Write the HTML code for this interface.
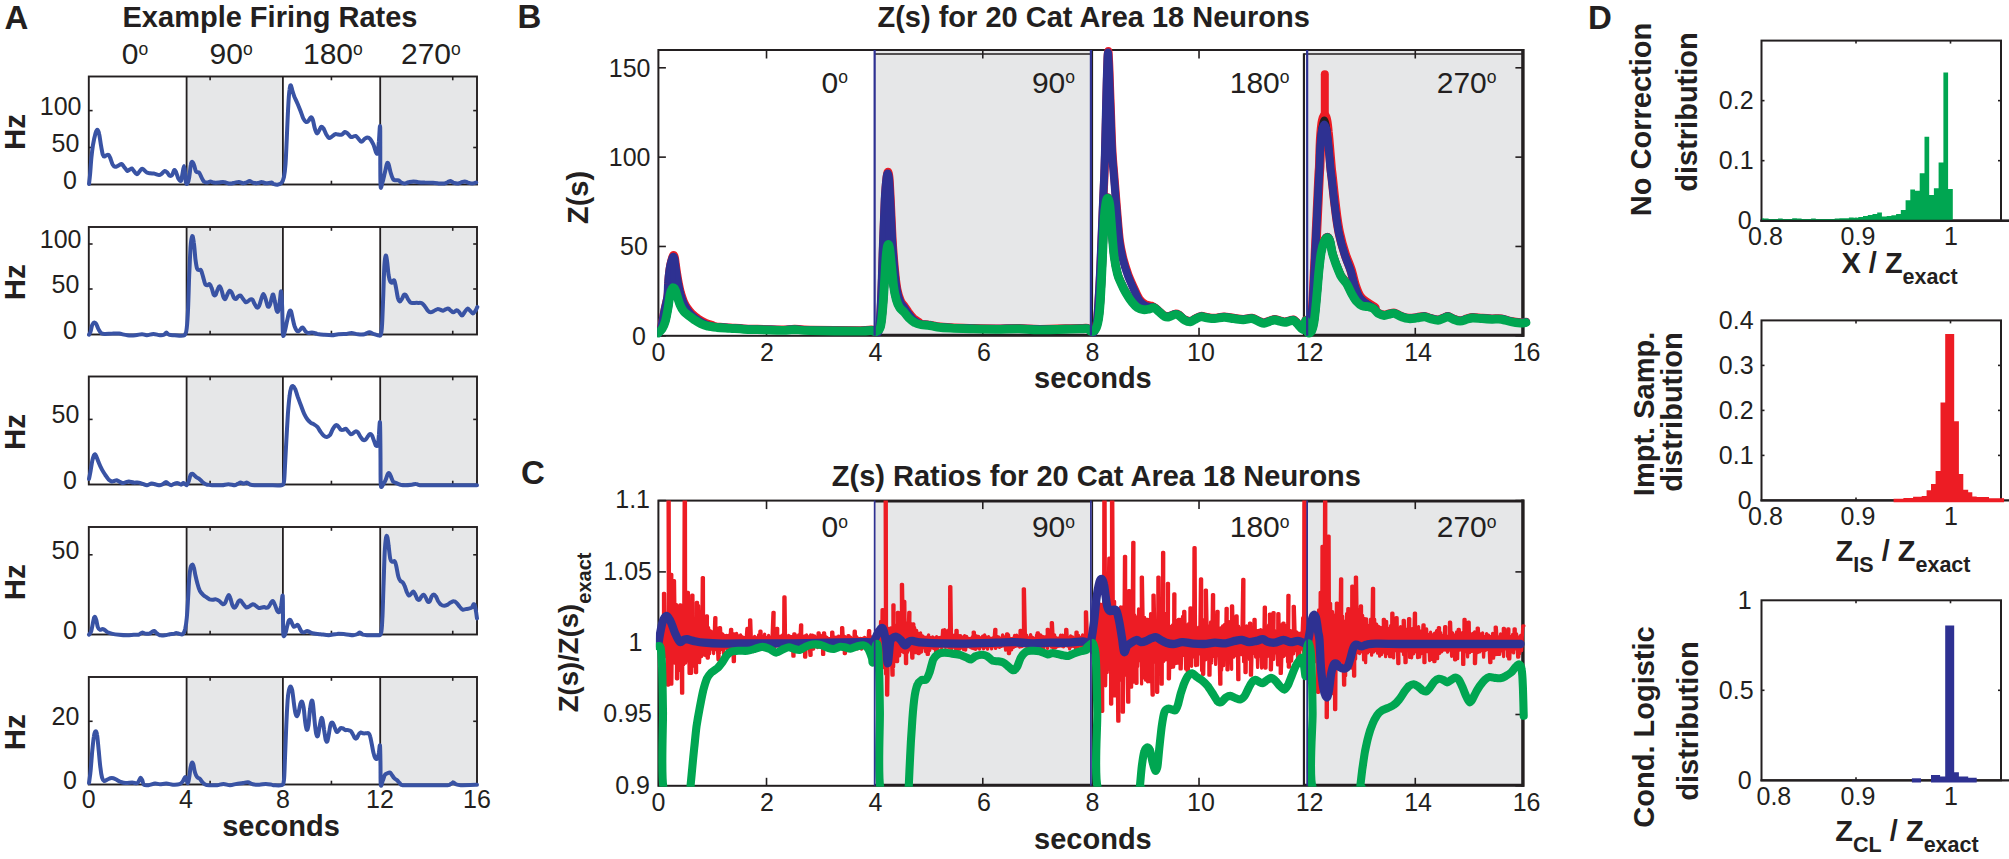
<!DOCTYPE html>
<html><head><meta charset="utf-8"><title>Figure</title>
<style>
html,body{margin:0;padding:0;background:#fff;}
body{width:2009px;height:859px;overflow:hidden;}
svg{display:block;font-family:"Liberation Sans",sans-serif;fill:#231F20;}
</style></head><body>
<svg width="2009" height="859" viewBox="0 0 2009 859">
<text x="4.5" y="28.6" font-size="33" text-anchor="start" font-weight="bold" >A</text>
<text x="517.6" y="27.8" font-size="33" text-anchor="start" font-weight="bold" >B</text>
<text x="521" y="484" font-size="33" text-anchor="start" font-weight="bold" >C</text>
<text x="1588" y="28.6" font-size="33" text-anchor="start" font-weight="bold" >D</text>
<text x="270" y="26.8" font-size="29" text-anchor="middle" font-weight="bold" >Example Firing Rates</text>
<text x="121.8" y="64.2" font-size="30" text-anchor="start">0<tspan font-size="17.5" dy="-9.3">o</tspan></text>
<text x="209.5" y="64.2" font-size="30" text-anchor="start">90<tspan font-size="17.5" dy="-9.3">o</tspan></text>
<text x="303" y="64.2" font-size="30" text-anchor="start">180<tspan font-size="17.5" dy="-9.3">o</tspan></text>
<text x="401" y="64.2" font-size="30" text-anchor="start">270<tspan font-size="17.5" dy="-9.3">o</tspan></text>
<rect x="186.6" y="76.5" width="96.29999999999998" height="108.0" fill="#E6E7E8" />
<rect x="380.2" y="76.5" width="96.80000000000001" height="108.0" fill="#E6E7E8" />
<rect x="88.8" y="76.5" width="388.2" height="108.0" fill="none" stroke="#231F20" stroke-width="1.9"/>
<line x1="186.6" y1="76.5" x2="186.6" y2="184.5" stroke="#231F20" stroke-width="1.8" />
<line x1="282.9" y1="76.5" x2="282.9" y2="184.5" stroke="#231F20" stroke-width="1.8" />
<line x1="380.2" y1="76.5" x2="380.2" y2="184.5" stroke="#231F20" stroke-width="1.8" />
<line x1="210.1125" y1="76.5" x2="210.1125" y2="80.3" stroke="#231F20" stroke-width="1.6" />
<line x1="210.1125" y1="184.5" x2="210.1125" y2="180.7" stroke="#231F20" stroke-width="1.6" />
<line x1="331.425" y1="76.5" x2="331.425" y2="80.3" stroke="#231F20" stroke-width="1.6" />
<line x1="331.425" y1="184.5" x2="331.425" y2="180.7" stroke="#231F20" stroke-width="1.6" />
<line x1="452.7375" y1="76.5" x2="452.7375" y2="80.3" stroke="#231F20" stroke-width="1.6" />
<line x1="452.7375" y1="184.5" x2="452.7375" y2="180.7" stroke="#231F20" stroke-width="1.6" />
<line x1="88.8" y1="110.6" x2="92.6" y2="110.6" stroke="#231F20" stroke-width="1.6" />
<line x1="477.0" y1="110.6" x2="473.2" y2="110.6" stroke="#231F20" stroke-width="1.6" />
<text x="81.5" y="114.6" font-size="25" text-anchor="end" font-weight="normal" >100</text>
<line x1="88.8" y1="147.5" x2="92.6" y2="147.5" stroke="#231F20" stroke-width="1.6" />
<line x1="477.0" y1="147.5" x2="473.2" y2="147.5" stroke="#231F20" stroke-width="1.6" />
<text x="79.3" y="151.5" font-size="25" text-anchor="end" font-weight="normal" >50</text>
<text x="77.0" y="188.5" font-size="25" text-anchor="end" font-weight="normal" >0</text>
<text transform="translate(25.2,132.0) rotate(-90)" font-size="29.5" text-anchor="middle" font-weight="bold" >Hz</text>
<path d="M89.0,183.9 C89.2,182.3 89.7,178.5 90.1,174.1 C90.5,169.8 90.9,162.7 91.4,157.8 C91.9,152.9 92.4,148.9 93.0,144.8 C93.7,140.7 94.8,135.9 95.5,133.4 C96.2,130.9 96.8,129.7 97.4,129.8 C98.1,129.9 98.7,131.7 99.2,134.2 C99.8,136.7 100.3,141.4 100.9,144.8 C101.5,148.2 102.2,152.6 102.8,154.6 C103.4,156.5 103.8,156.4 104.5,156.5 C105.1,156.6 105.9,155.3 106.6,155.1 C107.3,154.8 107.9,154.4 108.5,154.9 C109.1,155.4 109.5,156.3 110.2,157.8 C110.8,159.4 111.8,162.9 112.6,164.4 C113.4,165.8 114.1,166.6 115.1,166.8 C116.0,167.0 117.2,166.1 118.3,165.7 C119.4,165.2 120.6,163.8 121.6,164.0 C122.5,164.2 123.1,165.7 124.0,166.8 C125.0,167.9 126.3,170.4 127.3,170.9 C128.2,171.3 129.0,170.0 129.7,169.6 C130.5,169.2 131.2,168.2 131.9,168.4 C132.5,168.6 133.0,169.9 133.8,170.9 C134.6,171.8 135.9,173.9 136.7,174.1 C137.6,174.4 137.9,173.4 138.7,172.5 C139.5,171.6 140.8,169.4 141.6,168.9 C142.4,168.4 142.7,169.0 143.6,169.6 C144.5,170.2 145.8,171.9 146.9,172.5 C147.9,173.1 148.9,173.1 150.1,173.3 C151.3,173.5 152.7,173.4 154.2,173.6 C155.7,173.9 157.9,174.9 159.1,175.0 C160.3,175.0 160.6,174.5 161.5,173.8 C162.5,173.1 163.8,171.1 164.8,170.9 C165.7,170.7 166.4,171.7 167.2,172.5 C168.0,173.3 168.9,175.4 169.7,175.8 C170.5,176.2 171.4,175.9 172.1,175.0 C172.9,174.0 173.6,170.5 174.2,170.1 C174.9,169.7 175.5,171.0 176.2,172.5 C176.9,174.0 177.8,177.7 178.6,179.0 C179.5,180.4 180.5,181.5 181.1,180.7 C181.7,179.8 181.9,176.6 182.4,174.1 C182.9,171.7 183.6,166.0 184.0,166.0 C184.5,166.0 184.8,171.3 185.2,174.1 C185.5,177.0 185.6,181.6 186.0,183.1 C186.4,184.6 187.1,184.1 187.6,183.1 C188.2,182.2 188.7,180.5 189.2,177.4 C189.8,174.3 190.3,166.9 190.9,164.4 C191.4,161.8 192.0,161.8 192.5,161.9 C193.0,162.0 193.5,163.5 194.1,165.2 C194.7,166.8 195.3,170.5 196.1,171.7 C196.9,172.9 198.1,171.6 199.0,172.5 C199.9,173.5 200.7,175.9 201.5,177.4 C202.3,178.9 203.0,180.6 203.9,181.5 C204.9,182.3 206.1,182.6 207.2,182.6 C208.3,182.6 209.4,181.5 210.4,181.5 C211.5,181.5 212.3,182.4 213.7,182.6 C215.1,182.8 217.0,182.7 218.6,182.6 C220.2,182.5 221.6,181.8 223.5,182.0 C225.4,182.1 228.1,183.5 230.0,183.6 C231.9,183.7 233.4,182.9 234.9,182.6 C236.4,182.3 237.6,181.9 239.0,182.0 C240.3,182.1 241.8,183.2 243.1,183.3 C244.3,183.4 245.2,183.0 246.3,182.6 C247.4,182.2 248.5,181.0 249.6,181.0 C250.7,181.0 251.5,182.3 252.8,182.6 C254.2,183.0 256.2,183.2 257.7,183.1 C259.2,183.0 260.4,181.9 261.8,182.0 C263.2,182.0 264.2,183.2 265.9,183.3 C267.5,183.4 270.4,182.5 271.6,182.6 C272.8,182.7 272.3,183.5 273.3,183.9 C274.2,184.2 276.0,184.8 277.3,184.7 C278.7,184.5 280.3,184.3 281.4,183.0 C282.5,181.8 283.2,180.5 283.9,177.3 C284.5,174.2 285.0,170.8 285.5,164.3 C286.0,157.8 286.3,148.0 286.8,138.2 C287.2,128.4 287.8,113.8 288.3,105.6 C288.7,97.5 289.1,92.7 289.6,89.3 C290.0,85.9 290.4,85.0 290.9,85.3 C291.3,85.5 291.9,89.1 292.5,91.0 C293.1,92.9 293.6,94.5 294.4,96.7 C295.3,98.8 296.6,101.4 297.7,104.0 C298.8,106.6 300.0,109.7 301.0,112.2 C301.9,114.6 302.6,117.0 303.4,118.7 C304.2,120.3 305.0,121.5 305.9,121.9 C306.7,122.3 307.5,121.9 308.3,121.1 C309.1,120.4 310.0,117.6 310.7,117.4 C311.5,117.1 312.0,117.6 312.7,119.5 C313.4,121.3 314.1,126.1 314.8,128.4 C315.5,130.8 316.3,132.9 316.9,133.3 C317.6,133.7 318.2,132.0 318.9,130.9 C319.6,129.8 320.6,127.2 321.3,126.8 C322.1,126.4 322.6,127.2 323.5,128.4 C324.3,129.7 325.3,132.6 326.2,134.2 C327.1,135.7 328.0,137.5 329.0,137.9 C329.9,138.3 330.9,137.2 331.9,136.6 C333.0,136.0 334.1,134.5 335.2,134.2 C336.3,133.8 337.4,134.6 338.4,134.6 C339.5,134.7 340.6,135.1 341.7,134.6 C342.8,134.2 344.0,132.3 345.0,132.0 C345.9,131.8 346.5,132.5 347.4,133.3 C348.4,134.2 349.7,136.4 350.7,136.9 C351.6,137.5 352.3,136.8 353.1,136.6 C353.9,136.4 354.7,135.7 355.6,135.9 C356.4,136.2 357.1,137.2 358.0,138.2 C359.0,139.2 360.2,141.7 361.3,141.8 C362.4,141.9 363.5,139.8 364.5,139.0 C365.6,138.3 366.5,137.4 367.5,137.4 C368.4,137.4 369.2,137.8 370.2,139.0 C371.2,140.3 372.5,142.6 373.5,144.7 C374.4,146.9 375.3,150.7 375.9,152.1 C376.6,153.4 377.1,154.7 377.6,152.9 C378.1,151.1 378.4,145.7 378.9,141.5 C379.3,137.3 379.9,120.6 380.2,127.6 C380.4,134.7 380.1,174.8 380.5,183.9 C380.9,193.0 381.7,184.1 382.5,182.2 C383.2,180.3 384.1,175.6 384.9,172.5 C385.7,169.3 386.4,164.8 387.0,163.5 C387.6,162.1 388.0,162.8 388.6,164.3 C389.2,165.8 389.9,170.0 390.6,172.5 C391.3,174.9 392.2,177.7 393.0,179.0 C393.9,180.3 394.5,180.1 395.5,180.3 C396.4,180.5 397.8,179.9 398.7,180.3 C399.7,180.7 400.2,182.0 401.2,182.6 C402.1,183.1 403.2,183.6 404.5,183.5 C405.7,183.5 407.0,182.6 408.5,182.2 C410.0,181.9 411.8,181.4 413.4,181.4 C415.0,181.4 416.4,182.0 418.3,182.2 C420.2,182.4 422.4,182.5 424.8,182.6 C427.3,182.6 430.5,182.6 433.0,182.7 C435.4,182.9 437.6,183.2 439.5,183.4 C441.4,183.5 443.0,183.7 444.4,183.5 C445.7,183.3 446.6,182.7 447.6,182.2 C448.7,181.8 449.6,180.9 450.6,180.9 C451.5,181.0 452.2,182.1 453.3,182.6 C454.5,183.0 456.2,183.5 457.4,183.5 C458.6,183.5 459.5,182.9 460.7,182.6 C461.9,182.2 463.5,181.4 464.8,181.4 C466.0,181.4 466.8,182.2 468.0,182.6 C469.2,182.9 470.7,183.5 472.1,183.5 C473.4,183.5 475.5,182.7 476.2,182.6" fill="none" stroke="#3953A4" stroke-width="4" stroke-linejoin="round" stroke-linecap="round"/>
<rect x="186.6" y="227.0" width="96.29999999999998" height="107.5" fill="#E6E7E8" />
<rect x="380.2" y="227.0" width="96.80000000000001" height="107.5" fill="#E6E7E8" />
<rect x="88.8" y="227.0" width="388.2" height="107.5" fill="none" stroke="#231F20" stroke-width="1.9"/>
<line x1="186.6" y1="227.0" x2="186.6" y2="334.5" stroke="#231F20" stroke-width="1.8" />
<line x1="282.9" y1="227.0" x2="282.9" y2="334.5" stroke="#231F20" stroke-width="1.8" />
<line x1="380.2" y1="227.0" x2="380.2" y2="334.5" stroke="#231F20" stroke-width="1.8" />
<line x1="210.1125" y1="227.0" x2="210.1125" y2="230.8" stroke="#231F20" stroke-width="1.6" />
<line x1="210.1125" y1="334.5" x2="210.1125" y2="330.7" stroke="#231F20" stroke-width="1.6" />
<line x1="331.425" y1="227.0" x2="331.425" y2="230.8" stroke="#231F20" stroke-width="1.6" />
<line x1="331.425" y1="334.5" x2="331.425" y2="330.7" stroke="#231F20" stroke-width="1.6" />
<line x1="452.7375" y1="227.0" x2="452.7375" y2="230.8" stroke="#231F20" stroke-width="1.6" />
<line x1="452.7375" y1="334.5" x2="452.7375" y2="330.7" stroke="#231F20" stroke-width="1.6" />
<line x1="88.8" y1="244.0" x2="92.6" y2="244.0" stroke="#231F20" stroke-width="1.6" />
<line x1="477.0" y1="244.0" x2="473.2" y2="244.0" stroke="#231F20" stroke-width="1.6" />
<text x="81.5" y="248.0" font-size="25" text-anchor="end" font-weight="normal" >100</text>
<line x1="88.8" y1="289.0" x2="92.6" y2="289.0" stroke="#231F20" stroke-width="1.6" />
<line x1="477.0" y1="289.0" x2="473.2" y2="289.0" stroke="#231F20" stroke-width="1.6" />
<text x="79.3" y="293.0" font-size="25" text-anchor="end" font-weight="normal" >50</text>
<text x="77.0" y="338.5" font-size="25" text-anchor="end" font-weight="normal" >0</text>
<text transform="translate(25.2,282.25) rotate(-90)" font-size="29.5" text-anchor="middle" font-weight="bold" >Hz</text>
<path d="M89.0,334.7 C89.2,334.2 90.1,333.1 90.6,331.5 C91.1,329.8 91.6,326.4 92.2,325.0 C92.9,323.5 93.7,322.6 94.3,322.5 C95.0,322.4 95.6,322.9 96.3,324.1 C97.0,325.4 97.9,328.3 98.8,329.8 C99.6,331.3 100.2,332.4 101.2,333.1 C102.1,333.8 102.6,333.8 104.5,333.9 C106.4,334.0 110.2,333.6 112.6,333.6 C115.1,333.5 116.7,333.3 119.1,333.6 C121.6,333.9 124.6,335.0 127.3,335.2 C130.0,335.5 133.0,335.4 135.4,335.2 C137.9,335.1 140.1,334.2 142.0,334.2 C143.9,334.2 144.9,335.3 146.9,335.2 C148.8,335.2 151.2,333.9 153.4,333.9 C155.5,333.9 158.1,335.1 159.9,335.2 C161.7,335.4 162.9,335.2 164.0,334.7 C165.1,334.3 165.6,332.6 166.4,332.6 C167.2,332.6 167.5,334.3 168.9,334.7 C170.2,335.2 172.0,335.1 174.6,335.2 C177.2,335.3 182.3,336.5 184.4,335.2 C186.4,333.9 186.2,332.0 186.8,327.4 C187.4,322.8 187.7,316.5 188.1,307.8 C188.5,299.1 188.8,285.3 189.2,275.2 C189.7,265.2 190.1,254.0 190.5,247.5 C191.0,241.0 191.6,236.9 192.2,236.1 C192.7,235.3 193.3,238.8 193.8,242.6 C194.4,246.4 194.9,254.6 195.4,258.9 C196.0,263.3 196.5,266.9 197.1,268.7 C197.7,270.5 198.4,269.7 199.0,270.0 C199.7,270.3 200.3,269.2 201.0,270.3 C201.7,271.5 202.4,274.5 203.1,276.9 C203.8,279.2 204.5,282.8 205.2,284.2 C206.0,285.6 206.8,285.3 207.5,285.3 C208.2,285.3 208.9,283.7 209.6,284.2 C210.3,284.7 211.1,286.5 211.7,288.3 C212.4,290.0 213.1,293.7 213.7,294.8 C214.4,295.9 215.0,295.7 215.7,294.8 C216.3,293.8 217.1,290.5 217.8,289.1 C218.4,287.7 218.9,286.2 219.6,286.3 C220.2,286.4 220.9,288.1 221.5,289.9 C222.2,291.7 222.8,295.7 223.5,297.2 C224.1,298.7 224.8,299.4 225.4,298.9 C226.1,298.3 226.9,295.3 227.6,294.0 C228.3,292.6 229.0,291.0 229.7,290.7 C230.4,290.4 230.9,291.1 231.6,292.3 C232.4,293.6 233.3,297.0 234.1,298.0 C234.8,299.1 235.5,299.1 236.2,298.9 C236.9,298.6 237.4,297.0 238.2,296.4 C238.9,295.9 239.8,295.2 240.6,295.6 C241.4,296.0 242.2,297.8 243.1,298.9 C243.9,300.0 244.7,301.7 245.5,302.1 C246.3,302.5 247.1,301.8 247.9,301.3 C248.8,300.8 249.6,299.6 250.4,299.4 C251.2,299.1 251.8,298.9 252.5,299.7 C253.2,300.4 253.7,302.5 254.5,303.8 C255.2,305.1 256.2,307.1 256.9,307.5 C257.7,307.9 258.3,307.6 259.0,306.2 C259.8,304.8 260.6,300.9 261.3,298.9 C262.0,296.8 262.7,294.0 263.4,294.0 C264.1,294.0 264.8,296.8 265.6,298.9 C266.3,301.0 267.1,305.6 267.8,306.5 C268.6,307.5 269.2,306.3 270.0,304.6 C270.7,302.9 271.5,298.0 272.1,296.4 C272.6,294.8 272.9,294.0 273.4,294.8 C273.8,295.6 274.3,298.7 274.8,301.3 C275.4,303.9 276.0,308.6 276.5,310.2 C277.1,311.9 277.6,312.5 278.1,311.0 C278.7,309.5 279.3,304.5 279.8,301.3 C280.3,298.0 280.7,290.4 281.1,291.5 C281.5,292.6 281.9,300.6 282.2,307.8 C282.5,315.0 282.6,330.9 283.0,334.7 C283.5,338.5 284.3,332.9 285.0,330.6 C285.7,328.3 286.4,323.9 287.1,320.8 C287.8,317.7 288.6,313.5 289.2,311.9 C289.9,310.2 290.3,310.1 290.9,311.0 C291.4,312.0 291.9,315.1 292.5,317.6 C293.1,320.0 293.7,323.5 294.4,325.7 C295.2,327.9 296.1,330.1 296.9,330.9 C297.7,331.7 298.5,331.1 299.3,330.6 C300.1,330.1 301.1,328.1 301.8,327.7 C302.5,327.3 302.8,327.5 303.4,328.2 C304.0,328.8 304.7,330.6 305.5,331.4 C306.3,332.2 307.2,332.9 308.3,333.0 C309.4,333.2 310.9,332.4 312.4,332.6 C313.9,332.7 315.4,333.5 317.3,333.9 C319.2,334.2 321.3,334.5 323.8,334.7 C326.2,334.9 329.5,335.2 331.9,335.2 C334.4,335.1 336.0,334.4 338.4,334.2 C340.9,334.0 344.4,334.0 346.6,333.9 C348.8,333.7 349.6,333.0 351.5,333.0 C353.4,333.1 355.8,334.0 358.0,334.2 C360.2,334.4 362.6,334.5 364.5,334.2 C366.4,333.9 367.9,332.3 369.4,332.2 C370.9,332.2 372.1,333.4 373.5,333.9 C374.8,334.3 376.3,335.0 377.6,335.2 C378.8,335.3 380.1,336.5 380.8,334.7 C381.6,332.8 381.7,330.7 382.1,324.1 C382.5,317.4 382.9,304.5 383.3,294.7 C383.6,285.0 384.0,271.9 384.4,265.4 C384.8,258.9 385.3,256.4 385.7,255.6 C386.1,254.8 386.5,257.3 387.0,260.5 C387.5,263.8 388.1,271.7 388.6,275.2 C389.2,278.7 389.7,280.5 390.3,281.7 C390.9,282.9 391.6,282.7 392.2,282.5 C392.9,282.3 393.6,279.7 394.2,280.4 C394.8,281.1 395.2,283.7 395.8,286.6 C396.4,289.5 397.3,295.5 397.9,298.0 C398.6,300.5 399.2,301.5 399.9,301.6 C400.6,301.7 401.3,300.0 402.0,298.8 C402.7,297.7 403.3,295.3 404.0,294.7 C404.6,294.2 405.4,294.7 406.1,295.6 C406.8,296.4 407.5,298.5 408.2,299.6 C408.9,300.8 409.6,302.0 410.5,302.6 C411.4,303.1 412.1,302.8 413.4,302.9 C414.7,302.9 416.9,302.8 418.3,302.9 C419.7,302.9 420.8,302.7 421.9,303.2 C423.0,303.8 423.8,304.9 424.8,306.2 C425.8,307.4 426.8,309.7 427.8,310.7 C428.7,311.7 429.5,312.3 430.5,312.3 C431.5,312.4 432.6,311.6 433.8,311.0 C435.0,310.5 436.4,309.3 437.5,309.1 C438.6,308.9 439.4,309.5 440.3,309.7 C441.2,310.0 442.1,310.8 443.1,310.7 C444.0,310.6 445.1,309.4 446.0,309.1 C446.9,308.7 447.6,308.3 448.5,308.6 C449.3,308.9 450.1,310.1 450.9,310.7 C451.7,311.3 452.4,312.4 453.3,312.3 C454.3,312.3 455.7,310.3 456.6,310.2 C457.6,310.1 458.2,311.0 459.0,311.9 C459.9,312.8 461.0,315.6 462.0,315.6 C462.9,315.6 463.8,313.0 464.8,311.9 C465.7,310.7 466.6,308.8 467.5,308.6 C468.4,308.4 469.2,309.9 470.1,310.7 C471.0,311.5 472.0,313.4 472.9,313.5 C473.8,313.5 474.6,312.1 475.3,311.0 C476.1,310.0 477.0,307.6 477.3,307.0" fill="none" stroke="#3953A4" stroke-width="4" stroke-linejoin="round" stroke-linecap="round"/>
<rect x="186.6" y="376.5" width="96.29999999999998" height="108.0" fill="#E6E7E8" />
<rect x="380.2" y="376.5" width="96.80000000000001" height="108.0" fill="#E6E7E8" />
<rect x="88.8" y="376.5" width="388.2" height="108.0" fill="none" stroke="#231F20" stroke-width="1.9"/>
<line x1="186.6" y1="376.5" x2="186.6" y2="484.5" stroke="#231F20" stroke-width="1.8" />
<line x1="282.9" y1="376.5" x2="282.9" y2="484.5" stroke="#231F20" stroke-width="1.8" />
<line x1="380.2" y1="376.5" x2="380.2" y2="484.5" stroke="#231F20" stroke-width="1.8" />
<line x1="210.1125" y1="376.5" x2="210.1125" y2="380.3" stroke="#231F20" stroke-width="1.6" />
<line x1="210.1125" y1="484.5" x2="210.1125" y2="480.7" stroke="#231F20" stroke-width="1.6" />
<line x1="331.425" y1="376.5" x2="331.425" y2="380.3" stroke="#231F20" stroke-width="1.6" />
<line x1="331.425" y1="484.5" x2="331.425" y2="480.7" stroke="#231F20" stroke-width="1.6" />
<line x1="452.7375" y1="376.5" x2="452.7375" y2="380.3" stroke="#231F20" stroke-width="1.6" />
<line x1="452.7375" y1="484.5" x2="452.7375" y2="480.7" stroke="#231F20" stroke-width="1.6" />
<line x1="88.8" y1="419.4" x2="92.6" y2="419.4" stroke="#231F20" stroke-width="1.6" />
<line x1="477.0" y1="419.4" x2="473.2" y2="419.4" stroke="#231F20" stroke-width="1.6" />
<text x="79.3" y="423.4" font-size="25" text-anchor="end" font-weight="normal" >50</text>
<text x="77.0" y="488.5" font-size="25" text-anchor="end" font-weight="normal" >0</text>
<text transform="translate(25.2,432.0) rotate(-90)" font-size="29.5" text-anchor="middle" font-weight="bold" >Hz</text>
<path d="M89.0,479.0 C89.2,477.7 90.1,473.9 90.6,470.9 C91.1,467.9 91.7,463.7 92.2,461.1 C92.8,458.5 93.4,456.5 93.9,455.4 C94.3,454.2 94.6,454.1 95.0,454.2 C95.4,454.4 95.7,454.8 96.3,456.2 C96.9,457.6 97.8,460.5 98.8,462.7 C99.7,465.0 100.9,467.5 102.0,469.6 C103.1,471.6 104.2,473.3 105.3,475.0 C106.4,476.6 107.4,478.3 108.5,479.4 C109.6,480.4 110.8,481.2 111.8,481.5 C112.7,481.7 113.4,481.2 114.2,481.0 C115.1,480.8 115.7,480.2 116.7,480.3 C117.6,480.5 118.9,481.5 119.9,482.0 C121.0,482.4 122.1,483.1 123.2,483.1 C124.3,483.1 125.5,482.2 126.5,482.0 C127.4,481.7 127.7,481.4 128.9,481.5 C130.1,481.6 132.2,482.4 133.8,482.6 C135.4,482.8 137.1,482.3 138.7,482.6 C140.3,482.9 142.2,483.8 143.6,484.2 C144.9,484.7 145.5,485.3 146.9,485.2 C148.2,485.1 150.1,483.7 151.7,483.6 C153.4,483.5 155.3,484.5 156.6,484.7 C158.0,485.0 158.8,485.4 159.9,485.2 C161.0,485.1 162.1,484.5 163.2,483.9 C164.2,483.4 165.1,481.9 166.1,482.0 C167.0,482.0 168.0,483.7 168.9,484.2 C169.7,484.8 170.4,485.3 171.3,485.2 C172.3,485.1 173.5,483.9 174.6,483.6 C175.7,483.2 176.7,482.9 177.8,483.1 C178.9,483.3 180.1,484.7 181.1,484.7 C182.0,484.7 182.6,483.0 183.5,483.1 C184.5,483.2 185.9,485.6 186.8,485.2 C187.7,484.8 188.3,482.4 188.9,480.7 C189.5,478.9 190.0,476.1 190.5,475.0 C191.1,473.8 191.9,473.7 192.5,473.8 C193.2,473.9 193.8,474.8 194.5,475.4 C195.1,476.0 195.7,476.7 196.6,477.4 C197.5,478.0 198.8,478.5 199.8,479.4 C200.9,480.2 201.9,481.7 203.1,482.6 C204.3,483.5 205.4,484.3 207.2,484.7 C208.9,485.2 211.3,485.1 213.7,485.2 C216.1,485.3 219.4,485.4 221.9,485.2 C224.3,485.1 226.2,484.2 228.4,484.2 C230.6,484.2 233.3,485.3 234.9,485.2 C236.5,485.1 237.2,484.0 238.2,483.6 C239.1,483.2 239.7,482.6 240.6,482.6 C241.6,482.6 242.8,483.6 243.9,483.6 C245.0,483.6 246.0,482.4 247.1,482.6 C248.2,482.8 248.9,484.3 250.4,484.7 C251.9,485.2 253.2,485.1 256.1,485.2 C258.9,485.3 265.2,485.2 267.5,485.2 C269.8,485.2 267.7,485.2 270.0,485.2 C272.3,485.2 279.1,485.7 281.4,485.2 C283.7,484.7 283.3,485.4 283.9,482.2 C284.5,479.0 284.6,472.7 285.0,465.9 C285.4,459.1 285.8,450.2 286.3,441.5 C286.8,432.8 287.4,421.4 287.9,413.8 C288.5,406.2 289.0,400.2 289.6,395.9 C290.1,391.5 290.6,389.3 291.2,387.7 C291.8,386.1 292.5,385.8 293.1,386.1 C293.8,386.3 294.5,387.6 295.3,389.3 C296.0,391.1 296.8,394.0 297.7,396.7 C298.7,399.4 299.9,402.8 301.0,405.6 C302.1,408.5 303.1,411.5 304.2,413.8 C305.3,416.1 306.4,418.0 307.5,419.5 C308.6,421.0 309.7,421.9 310.7,422.7 C311.8,423.6 312.9,423.7 314.0,424.4 C315.1,425.1 316.2,425.6 317.3,426.8 C318.3,428.0 319.4,430.2 320.5,431.7 C321.6,433.2 322.7,434.9 323.8,435.8 C324.9,436.7 326.0,437.1 327.0,436.9 C328.1,436.8 329.0,436.2 330.0,435.0 C330.9,433.7 331.9,430.8 332.7,429.3 C333.6,427.8 334.2,426.7 334.9,426.0 C335.5,425.3 336.2,425.0 336.8,425.2 C337.5,425.4 338.1,426.4 338.8,427.1 C339.5,427.9 340.1,429.3 340.9,429.8 C341.7,430.2 342.5,429.9 343.3,429.8 C344.2,429.6 345.0,428.5 345.8,428.8 C346.6,429.0 347.4,430.5 348.2,431.4 C349.0,432.3 349.9,433.8 350.7,434.2 C351.5,434.5 352.3,433.8 353.1,433.3 C353.9,432.9 354.7,431.5 355.6,431.4 C356.4,431.2 357.2,431.7 358.0,432.5 C358.8,433.4 359.6,435.4 360.4,436.6 C361.3,437.8 362.1,439.3 362.9,439.9 C363.7,440.4 364.5,440.4 365.3,439.9 C366.2,439.3 367.1,437.5 367.8,436.6 C368.5,435.6 369.1,434.4 369.7,434.2 C370.4,433.9 371.2,434.2 371.9,435.3 C372.6,436.4 373.3,439.0 374.0,440.7 C374.7,442.4 375.3,444.9 375.9,445.6 C376.6,446.2 377.4,446.5 377.9,444.7 C378.4,443.0 378.5,438.6 378.9,435.0 C379.2,431.3 379.7,418.9 380.0,422.7 C380.3,426.5 380.4,447.4 380.5,457.8 C380.6,468.2 380.4,480.8 380.8,485.2 C381.3,489.6 382.5,485.1 383.3,484.2 C384.1,483.3 385.0,481.5 385.7,479.8 C386.4,478.1 387.1,475.2 387.7,474.1 C388.3,473.0 388.8,472.9 389.3,473.3 C389.8,473.7 390.3,475.2 390.9,476.5 C391.6,477.9 392.1,480.3 393.0,481.4 C393.9,482.5 395.1,482.5 396.3,483.0 C397.5,483.6 398.9,484.3 400.4,484.7 C401.9,485.0 403.4,485.2 405.3,485.2 C407.2,485.2 410.0,484.9 411.8,484.7 C413.6,484.5 414.5,483.8 415.9,483.9 C417.2,483.9 417.1,484.9 419.9,485.2 C422.8,485.4 428.1,485.2 433.0,485.2 C437.9,485.2 441.9,485.2 449.3,485.2 C456.6,485.2 472.4,485.2 477.0,485.2" fill="none" stroke="#3953A4" stroke-width="4" stroke-linejoin="round" stroke-linecap="round"/>
<rect x="186.6" y="527.0" width="96.29999999999998" height="107.5" fill="#E6E7E8" />
<rect x="380.2" y="527.0" width="96.80000000000001" height="107.5" fill="#E6E7E8" />
<rect x="88.8" y="527.0" width="388.2" height="107.5" fill="none" stroke="#231F20" stroke-width="1.9"/>
<line x1="186.6" y1="527.0" x2="186.6" y2="634.5" stroke="#231F20" stroke-width="1.8" />
<line x1="282.9" y1="527.0" x2="282.9" y2="634.5" stroke="#231F20" stroke-width="1.8" />
<line x1="380.2" y1="527.0" x2="380.2" y2="634.5" stroke="#231F20" stroke-width="1.8" />
<line x1="210.1125" y1="527.0" x2="210.1125" y2="530.8" stroke="#231F20" stroke-width="1.6" />
<line x1="210.1125" y1="634.5" x2="210.1125" y2="630.7" stroke="#231F20" stroke-width="1.6" />
<line x1="331.425" y1="527.0" x2="331.425" y2="530.8" stroke="#231F20" stroke-width="1.6" />
<line x1="331.425" y1="634.5" x2="331.425" y2="630.7" stroke="#231F20" stroke-width="1.6" />
<line x1="452.7375" y1="527.0" x2="452.7375" y2="530.8" stroke="#231F20" stroke-width="1.6" />
<line x1="452.7375" y1="634.5" x2="452.7375" y2="630.7" stroke="#231F20" stroke-width="1.6" />
<line x1="88.8" y1="554.8" x2="92.6" y2="554.8" stroke="#231F20" stroke-width="1.6" />
<line x1="477.0" y1="554.8" x2="473.2" y2="554.8" stroke="#231F20" stroke-width="1.6" />
<text x="79.3" y="558.8" font-size="25" text-anchor="end" font-weight="normal" >50</text>
<text x="77.0" y="638.5" font-size="25" text-anchor="end" font-weight="normal" >0</text>
<text transform="translate(25.2,582.25) rotate(-90)" font-size="29.5" text-anchor="middle" font-weight="bold" >Hz</text>
<path d="M89.0,634.7 C89.3,634.2 90.5,633.2 91.1,631.5 C91.7,629.7 92.3,626.3 92.7,624.1 C93.2,622.0 93.5,619.7 93.9,618.4 C94.2,617.2 94.6,616.5 95.0,616.8 C95.4,617.1 95.8,618.3 96.3,620.1 C96.8,621.8 97.3,625.8 97.9,627.4 C98.5,629.0 99.1,629.6 99.9,629.8 C100.7,630.1 101.7,629.0 102.5,629.0 C103.3,629.0 103.6,629.3 104.5,629.8 C105.3,630.4 106.4,631.6 107.7,632.3 C109.1,633.0 110.7,633.5 112.6,633.9 C114.5,634.3 116.7,634.5 119.1,634.7 C121.6,635.0 124.8,635.2 127.3,635.2 C129.7,635.2 131.9,634.8 133.8,634.7 C135.7,634.7 137.3,635.1 138.7,634.7 C140.1,634.4 140.9,632.8 142.0,632.6 C143.0,632.4 144.0,633.4 145.2,633.6 C146.4,633.8 148.2,633.9 149.3,633.6 C150.4,633.3 150.9,632.4 151.7,632.0 C152.6,631.5 153.4,630.8 154.2,631.0 C155.0,631.2 155.7,632.4 156.6,633.1 C157.6,633.8 158.5,634.9 159.9,635.2 C161.3,635.6 163.2,635.4 164.8,635.2 C166.4,635.1 168.2,634.5 169.7,634.2 C171.2,634.0 172.7,634.1 173.8,633.9 C174.8,633.7 175.2,633.1 176.2,633.1 C177.2,633.1 178.4,633.7 179.5,633.9 C180.5,634.1 181.8,635.1 182.7,634.2 C183.7,633.4 184.5,631.8 185.2,629.0 C185.8,626.3 186.3,622.8 186.8,617.6 C187.3,612.5 187.7,604.6 188.1,598.0 C188.5,591.5 188.8,583.5 189.2,578.5 C189.7,573.5 190.1,570.2 190.5,567.9 C191.0,565.6 191.6,564.7 192.2,564.6 C192.7,564.5 193.3,565.6 193.8,567.4 C194.4,569.2 194.8,572.6 195.4,575.2 C196.0,577.9 196.7,580.8 197.4,583.4 C198.1,586.0 198.9,588.8 199.8,590.7 C200.8,592.6 202.0,593.7 203.1,594.8 C204.2,595.9 205.3,596.5 206.4,597.2 C207.5,598.0 208.5,598.9 209.6,599.4 C210.7,599.8 211.8,599.7 212.9,599.7 C214.0,599.7 215.1,599.1 216.1,599.4 C217.2,599.6 218.3,600.2 219.4,601.0 C220.5,601.8 221.7,603.9 222.7,604.2 C223.6,604.6 224.4,604.0 225.1,602.9 C225.9,601.9 226.5,599.4 227.1,598.0 C227.7,596.7 228.2,595.1 228.7,595.1 C229.2,595.1 229.7,596.3 230.3,598.0 C231.0,599.8 231.7,603.8 232.5,605.4 C233.2,607.0 233.9,607.8 234.6,607.8 C235.3,607.8 235.9,606.5 236.5,605.4 C237.2,604.3 237.8,602.1 238.5,601.3 C239.2,600.5 239.8,600.1 240.6,600.5 C241.4,600.9 242.1,602.6 243.1,603.8 C244.0,604.9 245.2,607.1 246.3,607.5 C247.4,607.9 248.5,606.7 249.6,606.2 C250.7,605.7 251.9,604.4 252.8,604.2 C253.8,604.1 254.3,604.8 255.3,605.4 C256.2,606.0 257.5,607.5 258.5,607.8 C259.6,608.2 260.9,607.6 261.8,607.5 C262.8,607.4 263.4,607.0 264.2,607.0 C265.1,607.1 265.9,608.0 266.7,607.8 C267.5,607.7 268.4,607.1 269.1,606.2 C269.9,605.3 270.5,603.5 271.1,602.6 C271.7,601.7 272.3,600.7 272.9,601.0 C273.5,601.3 274.1,602.9 274.8,604.6 C275.6,606.2 276.6,609.8 277.3,611.0 C278.1,612.3 278.8,612.7 279.5,611.9 C280.1,611.0 280.5,608.9 281.1,606.2 C281.6,603.4 282.4,593.9 282.7,595.6 C283.0,597.2 282.9,609.3 283.0,615.9 C283.1,622.5 283.0,632.3 283.4,635.2 C283.8,638.0 284.9,634.5 285.5,633.0 C286.1,631.6 286.6,628.6 287.1,626.5 C287.7,624.5 288.2,621.9 288.7,620.8 C289.3,619.7 289.8,619.6 290.4,620.0 C290.9,620.4 291.5,622.2 292.0,623.3 C292.5,624.4 293.0,626.1 293.6,626.5 C294.3,627.0 295.1,626.3 295.7,626.0 C296.4,625.8 297.1,624.5 297.7,624.9 C298.4,625.2 299.0,627.0 299.7,628.2 C300.3,629.3 301.0,631.2 301.8,631.9 C302.5,632.6 303.3,632.4 304.2,632.2 C305.1,632.1 306.2,630.9 307.2,630.9 C308.1,630.9 308.8,631.8 309.9,632.2 C311.1,632.7 312.2,633.2 314.0,633.5 C315.8,633.9 318.1,633.9 320.5,634.2 C323.0,634.5 326.0,635.2 328.7,635.2 C331.4,635.1 334.1,634.0 336.8,633.9 C339.5,633.7 342.3,634.0 345.0,634.2 C347.7,634.4 351.1,635.2 353.1,635.2 C355.2,635.2 356.0,634.6 357.2,634.2 C358.3,633.8 359.0,632.5 360.0,632.6 C360.9,632.6 361.6,634.2 362.9,634.7 C364.2,635.1 365.3,635.1 367.8,635.2 C370.2,635.2 375.3,635.5 377.6,635.2 C379.8,634.8 380.3,636.2 381.1,633.0 C382.0,629.8 382.0,624.2 382.5,615.9 C382.9,607.6 383.2,593.9 383.6,583.3 C384.0,572.7 384.3,560.0 384.7,552.4 C385.1,544.8 385.6,540.3 386.0,537.7 C386.5,535.1 386.9,535.5 387.3,536.9 C387.8,538.2 388.2,542.2 388.6,545.9 C389.1,549.5 389.7,556.2 390.3,558.9 C390.9,561.6 391.5,561.4 392.2,561.8 C393.0,562.2 394.0,560.6 394.7,561.3 C395.4,562.1 395.7,563.6 396.3,566.2 C396.9,568.8 397.7,574.4 398.4,576.8 C399.1,579.3 399.6,579.9 400.4,580.9 C401.1,581.8 402.1,581.6 402.8,582.5 C403.6,583.5 404.3,585.0 404.9,586.6 C405.6,588.2 406.2,590.8 406.9,592.3 C407.5,593.8 408.2,595.3 408.9,595.6 C409.5,595.8 410.2,594.6 411.0,593.9 C411.7,593.3 412.7,591.4 413.4,591.5 C414.1,591.6 414.7,593.4 415.4,594.7 C416.1,596.0 416.8,598.5 417.5,599.3 C418.2,600.1 418.9,600.1 419.6,599.6 C420.3,599.1 420.9,597.2 421.6,596.4 C422.2,595.6 422.8,594.6 423.5,594.7 C424.2,594.9 424.9,596.0 425.6,597.2 C426.3,598.3 427.1,600.9 427.8,601.6 C428.4,602.3 429.1,602.1 429.7,601.3 C430.4,600.4 431.0,597.5 431.7,596.4 C432.3,595.2 433.1,594.4 433.8,594.4 C434.5,594.4 435.2,595.2 435.9,596.4 C436.6,597.5 437.4,599.9 438.2,601.3 C439.0,602.6 439.8,603.8 440.8,604.5 C441.8,605.3 443.0,605.8 444.1,605.8 C445.1,605.9 446.2,605.4 447.3,604.9 C448.4,604.3 449.5,603.2 450.6,602.6 C451.7,602.0 452.8,601.2 453.8,601.3 C454.8,601.3 455.6,601.9 456.6,602.9 C457.6,603.8 458.9,605.8 459.9,607.0 C460.9,608.1 461.7,609.4 462.6,609.7 C463.6,610.1 464.5,609.3 465.6,609.1 C466.6,608.9 467.8,608.9 468.8,608.6 C469.9,608.3 470.9,608.2 471.8,607.5 C472.6,606.7 473.2,604.4 473.7,604.2 C474.3,604.0 474.6,604.7 475.0,606.2 C475.4,607.6 475.8,610.6 476.2,612.7 C476.5,614.7 476.8,617.4 477.0,618.4" fill="none" stroke="#3953A4" stroke-width="4" stroke-linejoin="round" stroke-linecap="round"/>
<rect x="186.6" y="677.0" width="96.29999999999998" height="107.5" fill="#E6E7E8" />
<rect x="380.2" y="677.0" width="96.80000000000001" height="107.5" fill="#E6E7E8" />
<rect x="88.8" y="677.0" width="388.2" height="107.5" fill="none" stroke="#231F20" stroke-width="1.9"/>
<line x1="186.6" y1="677.0" x2="186.6" y2="784.5" stroke="#231F20" stroke-width="1.8" />
<line x1="282.9" y1="677.0" x2="282.9" y2="784.5" stroke="#231F20" stroke-width="1.8" />
<line x1="380.2" y1="677.0" x2="380.2" y2="784.5" stroke="#231F20" stroke-width="1.8" />
<line x1="210.1125" y1="677.0" x2="210.1125" y2="680.8" stroke="#231F20" stroke-width="1.6" />
<line x1="210.1125" y1="784.5" x2="210.1125" y2="780.7" stroke="#231F20" stroke-width="1.6" />
<line x1="331.425" y1="677.0" x2="331.425" y2="680.8" stroke="#231F20" stroke-width="1.6" />
<line x1="331.425" y1="784.5" x2="331.425" y2="780.7" stroke="#231F20" stroke-width="1.6" />
<line x1="452.7375" y1="677.0" x2="452.7375" y2="680.8" stroke="#231F20" stroke-width="1.6" />
<line x1="452.7375" y1="784.5" x2="452.7375" y2="780.7" stroke="#231F20" stroke-width="1.6" />
<line x1="88.8" y1="721.3" x2="92.6" y2="721.3" stroke="#231F20" stroke-width="1.6" />
<line x1="477.0" y1="721.3" x2="473.2" y2="721.3" stroke="#231F20" stroke-width="1.6" />
<text x="79.3" y="725.3" font-size="25" text-anchor="end" font-weight="normal" >20</text>
<text x="77.0" y="788.5" font-size="25" text-anchor="end" font-weight="normal" >0</text>
<text transform="translate(25.2,732.25) rotate(-90)" font-size="29.5" text-anchor="middle" font-weight="bold" >Hz</text>
<path d="M89.0,783.1 C89.2,781.1 90.1,776.2 90.6,770.9 C91.1,765.6 91.7,757.0 92.2,751.3 C92.8,745.6 93.3,739.9 93.9,736.6 C94.4,733.3 94.9,731.7 95.5,731.4 C96.0,731.1 96.6,731.7 97.1,735.0 C97.7,738.3 98.2,745.9 98.8,751.3 C99.3,756.7 99.8,763.3 100.4,767.6 C100.9,772.0 101.4,775.2 102.0,777.4 C102.6,779.6 103.3,780.6 104.1,781.0 C104.9,781.4 105.9,780.3 106.9,779.8 C107.9,779.4 109.1,778.5 110.2,778.2 C111.3,777.9 112.3,777.9 113.4,778.2 C114.5,778.5 115.5,779.2 116.7,779.8 C117.9,780.5 119.3,781.4 120.8,782.0 C122.3,782.5 123.8,783.0 125.7,783.1 C127.6,783.2 130.3,782.6 132.2,782.6 C134.1,782.6 135.9,783.4 137.1,783.1 C138.2,782.8 138.4,781.6 139.0,780.7 C139.6,779.8 140.1,777.8 140.7,777.7 C141.2,777.7 141.7,779.2 142.3,780.3 C142.8,781.5 142.9,783.9 143.9,784.7 C144.9,785.6 146.6,785.4 148.5,785.2 C150.3,785.0 153.1,783.8 155.0,783.6 C156.9,783.4 158.0,784.2 159.9,784.2 C161.8,784.2 164.2,783.5 166.4,783.6 C168.6,783.7 170.8,784.6 172.9,784.7 C175.1,784.8 177.8,784.8 179.5,784.2 C181.1,783.7 181.8,782.7 182.7,781.5 C183.7,780.3 184.5,777.2 185.2,777.1 C185.8,776.9 186.3,779.7 186.8,780.7 C187.3,781.7 187.5,783.6 187.9,783.1 C188.3,782.6 188.8,780.0 189.2,777.4 C189.7,774.8 190.1,770.1 190.5,767.6 C191.0,765.2 191.4,763.3 191.9,762.7 C192.3,762.2 192.8,762.7 193.3,764.4 C193.8,766.0 194.3,770.4 195.0,772.5 C195.6,774.6 196.3,776.0 197.1,777.1 C197.9,778.1 199.0,777.9 199.8,778.7 C200.7,779.5 201.3,781.0 202.3,782.0 C203.2,783.0 204.2,784.2 205.6,784.7 C206.9,785.3 208.5,785.1 210.4,785.2 C212.3,785.3 214.8,785.4 217.0,785.2 C219.1,785.0 221.3,783.9 223.5,783.9 C225.7,783.9 227.8,785.2 230.0,785.2 C232.2,785.2 234.4,784.3 236.5,783.9 C238.7,783.6 241.2,783.4 243.1,783.1 C245.0,782.8 246.3,782.1 247.9,782.3 C249.6,782.5 250.9,783.8 252.8,784.2 C254.7,784.7 257.2,784.8 259.4,784.7 C261.5,784.7 263.8,783.9 265.9,783.9 C267.9,783.9 270.4,784.5 271.6,784.7 C272.8,784.9 271.6,785.1 273.3,785.2 C274.9,785.2 279.6,785.9 281.4,785.2 C283.2,784.4 283.3,785.2 283.9,780.6 C284.5,776.0 284.6,767.0 285.0,757.8 C285.4,748.5 285.9,734.7 286.3,725.2 C286.7,715.7 287.2,706.6 287.6,700.7 C288.0,694.9 288.4,692.5 288.9,690.1 C289.4,687.8 290.0,686.4 290.5,686.4 C291.1,686.4 291.6,687.5 292.2,690.1 C292.7,692.8 293.3,698.6 293.8,702.4 C294.3,706.2 294.9,710.7 295.4,713.0 C296.0,715.3 296.5,716.4 297.1,716.2 C297.6,716.1 298.1,714.2 298.7,712.2 C299.2,710.1 299.8,705.8 300.3,704.0 C300.9,702.2 301.4,701.0 301.9,701.6 C302.5,702.1 303.0,703.9 303.6,707.3 C304.1,710.7 304.7,718.2 305.2,721.9 C305.7,725.7 306.3,729.2 306.8,729.8 C307.4,730.3 307.9,728.7 308.5,725.2 C309.0,721.7 309.5,713.0 310.1,708.9 C310.6,704.8 311.2,701.6 311.7,700.7 C312.2,699.9 312.5,700.5 313.0,704.0 C313.5,707.5 314.1,716.9 314.7,721.9 C315.2,727.0 315.7,731.8 316.3,734.2 C316.8,736.5 317.4,737.0 317.9,735.8 C318.5,734.6 319.0,729.7 319.5,726.8 C320.1,724.0 320.7,719.9 321.2,718.7 C321.7,717.4 322.0,717.6 322.5,719.5 C323.0,721.4 323.6,726.7 324.1,730.1 C324.7,733.5 325.2,738.0 325.7,739.9 C326.3,741.7 326.8,742.2 327.4,741.2 C327.9,740.1 328.5,736.1 329.0,733.3 C329.5,730.5 330.0,726.1 330.6,724.4 C331.2,722.6 331.9,722.3 332.6,722.7 C333.2,723.2 333.9,725.3 334.5,726.8 C335.2,728.3 335.8,731.0 336.5,731.7 C337.1,732.4 337.7,731.5 338.4,730.9 C339.2,730.3 340.0,728.5 340.7,728.1 C341.5,727.7 342.3,728.1 343.0,728.4 C343.8,728.8 344.5,729.8 345.3,730.1 C346.1,730.3 347.0,729.9 347.9,730.1 C348.8,730.2 349.9,730.2 350.7,730.9 C351.5,731.6 352.1,733.0 352.8,734.2 C353.5,735.3 354.1,737.2 354.7,737.9 C355.4,738.6 356.0,738.9 356.7,738.2 C357.4,737.6 358.1,735.1 358.8,734.2 C359.5,733.2 360.2,732.7 360.9,732.5 C361.7,732.4 362.4,733.2 363.2,733.3 C364.1,733.5 365.3,733.3 366.2,733.3 C367.1,733.3 367.9,732.8 368.6,733.3 C369.3,733.9 369.7,734.7 370.2,736.6 C370.8,738.5 371.3,742.0 371.9,744.7 C372.4,747.5 372.9,750.7 373.5,752.9 C374.0,755.1 374.5,756.8 375.1,757.8 C375.7,758.7 376.6,759.4 377.2,758.6 C377.9,757.8 378.4,755.1 378.9,752.9 C379.3,750.7 379.7,743.4 380.0,745.6 C380.3,747.7 380.4,759.3 380.5,765.9 C380.6,772.5 380.4,782.7 380.8,785.2 C381.2,787.6 382.1,782.3 382.8,780.6 C383.5,778.9 384.1,776.1 384.9,774.9 C385.7,773.7 386.5,773.7 387.3,773.3 C388.2,772.9 389.0,772.2 389.8,772.5 C390.5,772.7 391.2,773.9 391.9,774.9 C392.6,775.8 393.3,777.3 394.2,778.2 C395.1,779.1 396.2,779.5 397.1,780.3 C398.0,781.1 398.6,782.2 399.6,783.0 C400.5,783.9 400.0,784.8 402.8,785.2 C405.7,785.5 411.7,785.2 416.7,785.2 C421.7,785.2 427.8,785.2 433.0,785.2 C438.1,785.2 444.7,785.4 447.6,785.2 C450.6,784.9 449.9,784.3 450.9,783.9 C451.9,783.4 452.5,782.5 453.3,782.6 C454.2,782.6 454.6,783.8 455.8,784.2 C457.0,784.6 457.1,785.1 460.7,785.2 C464.2,785.2 474.3,784.8 477.0,784.7" fill="none" stroke="#3953A4" stroke-width="4" stroke-linejoin="round" stroke-linecap="round"/>
<text x="88.8" y="808" font-size="25" text-anchor="middle" font-weight="normal" >0</text>
<text x="185.85" y="808" font-size="25" text-anchor="middle" font-weight="normal" >4</text>
<text x="282.9" y="808" font-size="25" text-anchor="middle" font-weight="normal" >8</text>
<text x="379.95" y="808" font-size="25" text-anchor="middle" font-weight="normal" >12</text>
<text x="477.0" y="808" font-size="25" text-anchor="middle" font-weight="normal" >16</text>
<text x="281" y="836" font-size="29" text-anchor="middle" font-weight="bold" >seconds</text>
<rect x="874.65" y="50.0" width="217.7500000000001" height="285.8" fill="#E6E7E8" />
<rect x="1307.15" y="50.0" width="216.25" height="285.8" fill="#E6E7E8" />
<rect x="1304.15" y="50.0" width="2.2" height="285.8" fill="#fff" />
<line x1="874.65" y1="54.0" x2="1092.4" y2="54.0" stroke="#231F20" stroke-width="1.6" />
<line x1="1304.15" y1="54.0" x2="1523.4" y2="54.0" stroke="#231F20" stroke-width="1.6" />
<line x1="874.65" y1="334.6" x2="1092.4" y2="334.6" stroke="#231F20" stroke-width="1.6" />
<line x1="1304.15" y1="334.6" x2="1523.4" y2="334.6" stroke="#231F20" stroke-width="1.6" />
<rect x="658.4" y="50.0" width="865.0000000000001" height="285.8" fill="none" stroke="#231F20" stroke-width="2"/>
<line x1="1522.8000000000002" y1="49.0" x2="1522.8000000000002" y2="336.8" stroke="#231F20" stroke-width="3.2" />
<line x1="1092.4" y1="50.0" x2="1092.4" y2="335.8" stroke="#231F20" stroke-width="1.4" />
<line x1="1303.95" y1="53.2" x2="1303.95" y2="335.8" stroke="#231F20" stroke-width="2.2" />
<line x1="766.525" y1="50.0" x2="766.525" y2="58.5" stroke="#231F20" stroke-width="1.6" />
<line x1="766.525" y1="335.8" x2="766.525" y2="327.8" stroke="#231F20" stroke-width="1.6" />
<line x1="982.7750000000001" y1="50.0" x2="982.7750000000001" y2="58.5" stroke="#231F20" stroke-width="1.6" />
<line x1="982.7750000000001" y1="335.8" x2="982.7750000000001" y2="327.8" stroke="#231F20" stroke-width="1.6" />
<line x1="1199.025" y1="50.0" x2="1199.025" y2="58.5" stroke="#231F20" stroke-width="1.6" />
<line x1="1199.025" y1="335.8" x2="1199.025" y2="327.8" stroke="#231F20" stroke-width="1.6" />
<line x1="1415.275" y1="50.0" x2="1415.275" y2="58.5" stroke="#231F20" stroke-width="1.6" />
<line x1="1415.275" y1="335.8" x2="1415.275" y2="327.8" stroke="#231F20" stroke-width="1.6" />
<line x1="658.4" y1="67.80000000000001" x2="665.9" y2="67.80000000000001" stroke="#231F20" stroke-width="1.6" />
<line x1="1523.4" y1="67.80000000000001" x2="1515.4" y2="67.80000000000001" stroke="#231F20" stroke-width="1.6" />
<text x="650.5" y="76.60000000000001" font-size="25" text-anchor="end" font-weight="normal" >150</text>
<line x1="658.4" y1="157.13333333333335" x2="665.9" y2="157.13333333333335" stroke="#231F20" stroke-width="1.6" />
<line x1="1523.4" y1="157.13333333333335" x2="1515.4" y2="157.13333333333335" stroke="#231F20" stroke-width="1.6" />
<text x="650.5" y="165.93333333333337" font-size="25" text-anchor="end" font-weight="normal" >100</text>
<line x1="658.4" y1="246.4666666666667" x2="665.9" y2="246.4666666666667" stroke="#231F20" stroke-width="1.6" />
<line x1="1523.4" y1="246.4666666666667" x2="1515.4" y2="246.4666666666667" stroke="#231F20" stroke-width="1.6" />
<text x="647.9" y="255.2666666666667" font-size="25" text-anchor="end" font-weight="normal" >50</text>
<line x1="658.4" y1="335.8" x2="665.9" y2="335.8" stroke="#231F20" stroke-width="1.6" />
<line x1="1523.4" y1="335.8" x2="1515.4" y2="335.8" stroke="#231F20" stroke-width="1.6" />
<text x="646.0" y="344.6" font-size="25" text-anchor="end" font-weight="normal" >0</text>
<clipPath id="bclip"><rect x="657.2" y="0" width="900" height="339.3"/></clipPath><g clip-path="url(#bclip)">
<path d="M658.0,332.2 C658.7,331.5 660.8,330.2 662.0,328.2 C663.3,326.2 664.4,323.7 665.4,320.1 C666.4,316.6 667.3,311.2 668.1,306.8 C668.9,302.3 669.4,296.5 670.1,293.4 C670.8,290.2 671.5,289.1 672.1,288.0 C672.6,286.9 672.9,286.7 673.4,286.9 C674.0,287.2 674.8,287.8 675.4,289.3 C676.1,290.9 676.7,293.6 677.4,296.0 C678.2,298.5 679.1,301.7 680.1,304.1 C681.1,306.4 682.0,308.3 683.5,310.1 C684.9,311.9 687.0,313.3 688.8,314.8 C690.6,316.2 692.2,317.5 694.2,318.8 C696.2,320.1 698.6,321.7 700.9,322.8 C703.1,323.9 704.9,324.6 707.6,325.2 C710.2,325.9 713.1,326.2 716.9,326.6 C720.7,326.9 725.9,327.2 730.3,327.5 C734.8,327.8 739.3,328.2 743.7,328.4 C748.2,328.7 752.6,328.7 757.1,328.8 C761.6,329.0 766.0,329.1 770.5,329.2 C775.0,329.4 779.9,329.6 783.9,329.5 C787.9,329.4 790.2,328.8 794.6,328.8 C798.9,328.9 799.1,329.5 810.0,329.8 C820.9,330.0 849.8,330.3 860.0,330.3 C870.2,330.2 868.7,329.5 871.4,329.6 C874.0,329.7 874.4,331.3 875.9,330.7 C877.4,330.1 879.3,330.0 880.4,326.2 C881.6,322.4 882.0,315.6 882.7,308.0 C883.4,300.4 884.0,289.5 884.5,280.8 C885.1,272.1 885.6,261.9 886.1,255.8 C886.6,249.7 887.1,246.0 887.7,244.4 C888.3,242.9 888.9,243.7 889.5,246.7 C890.1,249.7 890.6,256.2 891.3,262.6 C892.0,269.0 892.8,279.3 893.6,285.3 C894.4,291.4 895.3,295.3 896.3,298.9 C897.3,302.5 898.4,304.8 899.7,306.9 C901.1,309.0 902.8,309.7 904.3,311.4 C905.8,313.1 907.1,315.4 908.8,317.1 C910.5,318.8 912.4,320.5 914.5,321.6 C916.6,322.8 919.0,323.4 921.3,323.9 C923.6,324.4 925.5,324.0 928.1,324.4 C930.8,324.7 933.4,325.7 937.2,326.2 C941.0,326.7 944.8,327.0 950.8,327.3 C956.9,327.6 965.9,327.8 973.5,328.0 C981.1,328.2 988.6,328.4 996.2,328.4 C1003.8,328.4 1011.6,327.9 1018.9,328.0 C1026.2,328.1 1029.8,328.9 1040.0,328.9 C1050.2,328.9 1072.1,328.1 1080.0,328.0 C1087.9,327.8 1085.8,327.5 1087.7,328.0 C1089.6,328.4 1090.1,331.0 1091.5,330.8 C1093.0,330.7 1095.0,329.9 1096.3,327.0 C1097.6,324.1 1098.4,320.3 1099.2,313.6 C1100.0,306.8 1100.6,296.9 1101.1,286.7 C1101.7,276.4 1102.2,263.6 1102.7,252.1 C1103.2,240.6 1103.7,225.8 1104.2,217.5 C1104.7,209.2 1105.3,205.5 1105.9,202.2 C1106.5,198.8 1107.2,197.0 1107.9,197.3 C1108.5,197.7 1109.1,199.1 1109.8,204.1 C1110.4,209.0 1111.0,218.5 1111.7,227.1 C1112.4,235.8 1113.2,248.3 1114.2,255.9 C1115.2,263.6 1116.3,268.7 1117.5,273.2 C1118.6,277.7 1119.9,279.6 1121.3,282.8 C1122.7,286.0 1124.3,289.4 1126.1,292.4 C1127.9,295.5 1129.9,298.7 1131.9,301.1 C1133.8,303.5 1135.7,305.6 1137.6,306.8 C1139.5,308.1 1141.5,308.5 1143.4,308.8 C1145.3,309.0 1147.4,308.5 1149.2,308.2 C1150.9,307.9 1152.4,306.4 1154.0,306.8 C1155.6,307.3 1157.0,309.2 1158.8,310.7 C1160.5,312.1 1162.8,314.6 1164.5,315.5 C1166.3,316.3 1167.6,316.2 1169.3,315.9 C1171.1,315.5 1173.5,313.8 1175.1,313.6 C1176.7,313.3 1177.3,313.6 1178.9,314.5 C1180.5,315.5 1182.8,318.3 1184.7,319.3 C1186.6,320.4 1188.7,321.0 1190.4,320.9 C1192.2,320.7 1193.5,319.2 1195.3,318.4 C1197.0,317.5 1199.1,316.1 1201.0,315.9 C1202.9,315.6 1204.5,316.7 1206.8,317.0 C1209.0,317.3 1211.6,317.9 1214.5,317.8 C1217.3,317.7 1220.9,316.4 1224.1,316.4 C1227.3,316.4 1230.5,317.4 1233.7,317.8 C1236.9,318.2 1240.2,318.9 1243.3,318.9 C1246.3,318.9 1249.1,317.4 1251.9,317.8 C1254.7,318.2 1258.0,320.5 1260.0,321.2 C1262.0,322.0 1262.5,322.5 1264.1,322.4 C1265.7,322.3 1267.7,321.2 1269.5,320.6 C1271.3,320.1 1273.0,319.1 1274.8,319.1 C1276.5,319.1 1278.3,320.0 1280.0,320.4 C1281.7,320.8 1283.2,321.5 1284.8,321.5 C1286.4,321.5 1288.0,320.6 1289.5,320.3 C1291.0,320.0 1292.3,319.2 1293.5,319.5 C1294.7,319.8 1295.5,320.9 1296.5,321.9 C1297.5,322.9 1298.4,324.4 1299.5,325.5 C1300.6,326.6 1302.4,329.0 1303.3,328.8 C1304.2,328.6 1304.6,325.6 1305.0,324.1 C1305.4,322.7 1305.4,319.0 1305.8,320.1 C1306.2,321.2 1306.4,329.1 1307.3,330.9 C1308.2,332.7 1310.0,332.5 1311.1,330.9 C1312.3,329.3 1313.1,326.7 1314.0,321.3 C1314.9,315.9 1315.7,306.6 1316.5,298.2 C1317.3,289.9 1318.1,279.0 1318.8,271.3 C1319.6,263.7 1320.2,257.2 1321.1,252.1 C1322.0,247.0 1323.1,243.2 1324.2,240.6 C1325.3,238.0 1326.5,236.7 1327.5,236.7 C1328.4,236.7 1329.2,238.0 1330.0,240.6 C1330.8,243.2 1331.3,248.3 1332.3,252.1 C1333.3,256.0 1334.7,259.8 1336.1,263.7 C1337.6,267.5 1339.2,272.0 1340.9,275.2 C1342.7,278.4 1344.9,280.0 1346.7,282.9 C1348.4,285.7 1349.9,289.6 1351.5,292.5 C1353.1,295.4 1354.5,298.1 1356.3,300.2 C1358.1,302.2 1360.0,304.0 1362.1,305.0 C1364.1,305.9 1366.9,305.4 1368.8,305.9 C1370.7,306.4 1372.0,306.7 1373.6,307.8 C1375.2,309.0 1376.6,311.5 1378.4,312.7 C1380.2,313.8 1382.2,314.5 1384.2,314.6 C1386.1,314.7 1388.2,313.5 1389.9,313.2 C1391.7,312.9 1392.8,312.2 1394.7,312.7 C1396.6,313.1 1399.1,315.1 1401.5,315.9 C1403.9,316.8 1406.6,317.6 1409.1,317.8 C1411.7,318.0 1414.3,317.4 1416.8,317.1 C1419.4,316.8 1422.3,315.8 1424.5,315.9 C1426.8,316.0 1428.0,317.3 1430.3,317.8 C1432.5,318.4 1435.7,319.4 1438.0,319.4 C1440.2,319.3 1442.1,318.0 1443.7,317.5 C1445.4,316.9 1446.4,315.8 1448.0,315.9 C1449.6,316.1 1451.3,317.7 1453.3,318.4 C1455.4,319.2 1457.8,320.3 1460.1,320.3 C1462.3,320.3 1464.7,319.0 1466.8,318.4 C1468.9,317.9 1470.0,317.2 1472.6,317.1 C1475.1,317.0 1479.0,317.6 1482.2,317.8 C1485.4,318.1 1488.6,318.3 1491.8,318.4 C1495.0,318.5 1498.2,318.0 1501.4,318.4 C1504.6,318.8 1507.8,320.3 1511.0,320.9 C1514.2,321.6 1518.1,322.1 1520.6,322.3 C1523.1,322.4 1525.1,321.8 1526.0,321.7" fill="none" stroke="#ED1C24" stroke-width="8" stroke-linejoin="round" stroke-linecap="round" />
<path d="M658.9,331.6 C659.3,330.5 660.7,328.7 661.7,324.9 C662.7,321.1 663.8,313.7 664.8,308.8 C665.8,303.9 667.1,299.9 667.7,295.4 C668.3,291.0 668.0,286.5 668.4,282.1 C668.7,277.6 669.2,272.3 669.7,268.7 C670.2,265.0 670.9,262.2 671.5,260.0 C672.1,257.7 672.8,255.7 673.3,255.3 C673.9,254.8 674.3,255.8 674.7,257.3 C675.1,258.7 675.3,261.2 675.7,264.0 C676.1,266.8 676.6,270.8 677.1,274.0 C677.6,277.3 678.1,280.3 678.7,283.4 C679.3,286.5 680.0,289.8 680.8,292.8 C681.7,295.8 682.7,298.9 683.8,301.5 C684.9,304.0 686.2,306.2 687.5,308.2 C688.9,310.2 690.0,311.7 691.8,313.5 C693.6,315.3 696.2,317.3 698.5,318.9 C700.8,320.4 703.6,321.9 705.9,322.9 C708.1,323.9 710.9,324.6 711.9,324.9" fill="none" stroke="#ED1C24" stroke-width="8.2" stroke-linejoin="round" stroke-linecap="round" />
<path d="M877.1,330.1 C877.5,329.7 878.7,333.5 879.4,327.8 C880.1,322.2 880.8,310.1 881.4,296.1 C882.1,282.1 882.6,260.1 883.2,243.8 C883.8,227.6 884.5,209.4 885.0,198.4 C885.6,187.5 886.1,182.4 886.6,178.0 C887.1,173.6 887.5,171.9 888.0,171.9 C888.4,171.9 888.9,173.2 889.4,178.0 C889.8,182.8 890.2,190.5 890.7,200.7 C891.2,210.9 891.9,228.0 892.5,239.3 C893.2,250.7 894.0,260.5 894.8,268.8 C895.6,277.1 896.3,284.0 897.3,289.2 C898.3,294.5 899.5,297.8 900.7,300.6 C901.9,303.4 903.3,304.4 904.6,306.3 C905.9,308.2 906.9,309.9 908.4,312.0 C909.9,314.0 911.8,316.6 913.6,318.3 C915.5,320.0 918.4,321.5 919.3,322.2" fill="none" stroke="#ED1C24" stroke-width="8.2" stroke-linejoin="round" stroke-linecap="round" />
<path d="M1092.2,330.2 C1092.6,330.2 1093.9,331.8 1094.7,330.2 C1095.5,328.6 1096.5,326.7 1097.2,320.6 C1097.9,314.6 1098.5,304.6 1099.1,293.8 C1099.8,282.9 1100.4,269.7 1101.0,255.3 C1101.7,240.9 1102.4,220.1 1103.0,207.3 C1103.5,194.5 1103.9,187.8 1104.3,178.5 C1104.7,169.2 1104.9,162.3 1105.2,151.8 C1105.5,141.3 1105.8,127.7 1106.1,115.7 C1106.4,103.7 1106.7,89.2 1107.0,79.6 C1107.3,70.0 1107.5,62.7 1107.7,57.9 C1107.9,53.2 1108.1,51.1 1108.3,51.1 C1108.5,51.1 1108.6,53.2 1108.8,57.9 C1109.1,62.7 1109.4,70.0 1109.7,79.6 C1110.1,89.2 1110.5,103.7 1111.0,115.7 C1111.4,127.7 1111.8,141.3 1112.4,151.8 C1113.0,162.3 1113.8,169.2 1114.5,178.5 C1115.2,187.8 1115.9,197.1 1116.8,207.3 C1117.7,217.6 1118.6,231.3 1119.7,240.0 C1120.8,248.6 1122.1,253.4 1123.5,259.2 C1125.0,264.9 1126.6,269.7 1128.3,274.5 C1130.1,279.3 1132.2,283.8 1134.1,288.0 C1136.0,292.2 1137.9,296.8 1139.8,299.5 C1141.8,302.2 1143.7,303.3 1145.6,304.3 C1147.5,305.3 1150.4,305.4 1151.4,305.7" fill="none" stroke="#ED1C24" stroke-width="8.2" stroke-linejoin="round" stroke-linecap="round" />
<path d="M1308.0,330.8 C1308.4,330.5 1309.6,333.4 1310.5,328.9 C1311.3,324.3 1312.2,314.4 1313.0,303.7 C1313.7,293.0 1314.2,279.5 1314.9,264.9 C1315.6,250.2 1316.5,230.5 1317.2,215.6 C1317.9,200.7 1318.7,183.7 1319.1,175.4 C1319.5,167.2 1319.5,170.8 1319.7,166.1 C1319.9,161.4 1320.0,153.1 1320.3,147.4 C1320.5,141.8 1320.8,136.4 1321.2,132.0 C1321.6,127.5 1322.0,123.5 1322.6,120.7 C1323.2,117.9 1323.9,115.4 1324.6,115.4 C1325.3,115.4 1326.0,118.0 1326.6,120.8 C1327.2,123.6 1327.6,128.0 1328.0,132.2 C1328.5,136.4 1328.8,140.3 1329.3,146.3 C1329.8,152.2 1330.6,162.8 1331.1,168.0 C1331.6,173.2 1331.5,170.9 1332.2,177.5 C1332.9,184.0 1334.3,198.3 1335.5,207.5 C1336.6,216.8 1337.7,225.1 1339.3,232.8 C1340.9,240.5 1343.1,247.9 1345.1,253.9 C1347.0,260.0 1349.1,263.9 1350.8,269.3 C1352.6,274.8 1354.0,282.0 1355.6,286.6 C1357.2,291.3 1358.5,294.5 1360.4,297.2 C1362.4,299.9 1364.8,301.2 1367.2,302.9 C1369.6,304.7 1373.6,306.9 1374.9,307.7" fill="none" stroke="#ED1C24" stroke-width="9.5" stroke-linejoin="round" stroke-linecap="round" />
<path d="M1324.8,74.2 L1324.8,117.2" fill="none" stroke="#ED1C24" stroke-width="8" stroke-linejoin="round" stroke-linecap="round" />
<path d="M1307.7,331.8 C1308.1,331.5 1309.3,334.4 1310.2,329.9 C1311.0,325.4 1311.9,315.5 1312.7,304.9 C1313.4,294.3 1313.9,280.9 1314.6,266.5 C1315.3,252.0 1316.2,232.9 1316.9,218.4 C1317.6,203.9 1318.4,187.6 1318.8,179.6 C1319.2,171.7 1319.2,175.3 1319.4,170.7 C1319.6,166.2 1319.7,157.9 1320.0,152.3 C1320.2,146.7 1320.5,141.6 1320.9,137.1 C1321.3,132.7 1321.7,128.5 1322.3,125.7 C1322.9,122.8 1323.6,119.9 1324.3,119.9 C1325.0,119.9 1325.7,122.8 1326.3,125.7 C1326.9,128.5 1327.3,133.0 1327.7,137.1 C1328.2,141.3 1328.5,145.1 1329.0,150.8 C1329.5,156.4 1330.3,166.3 1330.8,171.2 C1331.3,176.1 1331.2,173.7 1331.9,180.0 C1332.6,186.2 1334.0,199.8 1335.2,208.8 C1336.3,217.8 1337.4,226.1 1339.0,233.8 C1340.6,241.5 1342.8,248.9 1344.8,254.9 C1346.7,261.0 1348.8,264.9 1350.5,270.3 C1352.3,275.8 1353.7,283.0 1355.3,287.6 C1356.9,292.3 1358.2,295.5 1360.1,298.2 C1362.1,300.9 1364.5,302.2 1366.9,303.9 C1369.3,305.7 1373.3,307.9 1374.6,308.7" fill="none" stroke="#231F20" stroke-width="7" stroke-linejoin="round" stroke-linecap="round" />
<path d="M658.0,332.6 C658.7,331.9 660.8,330.6 662.0,328.6 C663.3,326.6 664.4,324.1 665.4,320.5 C666.4,317.0 667.3,311.6 668.1,307.2 C668.9,302.7 669.4,296.9 670.1,293.8 C670.8,290.6 671.5,289.5 672.1,288.4 C672.6,287.3 672.9,287.1 673.4,287.3 C674.0,287.6 674.8,288.2 675.4,289.7 C676.1,291.3 676.7,294.0 677.4,296.4 C678.2,298.9 679.1,302.1 680.1,304.5 C681.1,306.8 682.0,308.7 683.5,310.5 C684.9,312.3 687.0,313.7 688.8,315.2 C690.6,316.6 692.2,317.9 694.2,319.2 C696.2,320.5 698.6,322.1 700.9,323.2 C703.1,324.3 704.9,325.0 707.6,325.6 C710.2,326.3 713.1,326.6 716.9,327.0 C720.7,327.3 725.9,327.6 730.3,327.9 C734.8,328.2 739.3,328.6 743.7,328.8 C748.2,329.1 752.6,329.1 757.1,329.2 C761.6,329.4 766.0,329.5 770.5,329.6 C775.0,329.8 779.9,330.0 783.9,329.9 C787.9,329.8 790.2,329.2 794.6,329.2 C798.9,329.3 799.1,329.9 810.0,330.2 C820.9,330.4 849.8,330.7 860.0,330.7 C870.2,330.6 868.7,329.9 871.4,330.0 C874.0,330.1 874.4,331.7 875.9,331.1 C877.4,330.5 879.3,330.4 880.4,326.6 C881.6,322.8 882.0,316.0 882.7,308.4 C883.4,300.8 884.0,289.9 884.5,281.2 C885.1,272.5 885.6,262.3 886.1,256.2 C886.6,250.1 887.1,246.4 887.7,244.8 C888.3,243.3 888.9,244.1 889.5,247.1 C890.1,250.1 890.6,256.6 891.3,263.0 C892.0,269.4 892.8,279.7 893.6,285.7 C894.4,291.8 895.3,295.7 896.3,299.3 C897.3,302.9 898.4,305.2 899.7,307.3 C901.1,309.4 902.8,310.1 904.3,311.8 C905.8,313.5 907.1,315.8 908.8,317.5 C910.5,319.2 912.4,320.9 914.5,322.0 C916.6,323.2 919.0,323.8 921.3,324.3 C923.6,324.8 925.5,324.4 928.1,324.8 C930.8,325.1 933.4,326.1 937.2,326.6 C941.0,327.1 944.8,327.4 950.8,327.7 C956.9,328.0 965.9,328.2 973.5,328.4 C981.1,328.6 988.6,328.8 996.2,328.8 C1003.8,328.8 1011.6,328.3 1018.9,328.4 C1026.2,328.5 1029.8,329.3 1040.0,329.3 C1050.2,329.3 1072.1,328.5 1080.0,328.4 C1087.9,328.2 1085.8,327.9 1087.7,328.4 C1089.6,328.8 1090.1,331.4 1091.5,331.2 C1093.0,331.1 1095.0,330.3 1096.3,327.4 C1097.6,324.5 1098.4,320.7 1099.2,314.0 C1100.0,307.2 1100.6,297.3 1101.1,287.1 C1101.7,276.8 1102.2,264.0 1102.7,252.5 C1103.2,241.0 1103.7,226.2 1104.2,217.9 C1104.7,209.6 1105.3,205.9 1105.9,202.6 C1106.5,199.2 1107.2,197.4 1107.9,197.7 C1108.5,198.1 1109.1,199.5 1109.8,204.5 C1110.4,209.4 1111.0,218.9 1111.7,227.5 C1112.4,236.2 1113.2,248.7 1114.2,256.3 C1115.2,264.0 1116.3,269.1 1117.5,273.6 C1118.6,278.1 1119.9,280.0 1121.3,283.2 C1122.7,286.4 1124.3,289.8 1126.1,292.8 C1127.9,295.9 1129.9,299.1 1131.9,301.5 C1133.8,303.9 1135.7,306.0 1137.6,307.2 C1139.5,308.5 1141.5,308.9 1143.4,309.2 C1145.3,309.4 1147.4,308.9 1149.2,308.6 C1150.9,308.3 1152.4,306.8 1154.0,307.2 C1155.6,307.7 1157.0,309.6 1158.8,311.1 C1160.5,312.5 1162.8,315.0 1164.5,315.9 C1166.3,316.7 1167.6,316.6 1169.3,316.3 C1171.1,315.9 1173.5,314.2 1175.1,314.0 C1176.7,313.7 1177.3,314.0 1178.9,314.9 C1180.5,315.9 1182.8,318.7 1184.7,319.7 C1186.6,320.8 1188.7,321.4 1190.4,321.3 C1192.2,321.1 1193.5,319.6 1195.3,318.8 C1197.0,317.9 1199.1,316.5 1201.0,316.3 C1202.9,316.0 1204.5,317.1 1206.8,317.4 C1209.0,317.7 1211.6,318.3 1214.5,318.2 C1217.3,318.1 1220.9,316.8 1224.1,316.8 C1227.3,316.8 1230.5,317.8 1233.7,318.2 C1236.9,318.6 1240.2,319.3 1243.3,319.3 C1246.3,319.3 1249.1,317.8 1251.9,318.2 C1254.7,318.6 1258.0,320.9 1260.0,321.6 C1262.0,322.4 1262.5,322.9 1264.1,322.8 C1265.7,322.7 1267.7,321.6 1269.5,321.0 C1271.3,320.4 1273.0,319.5 1274.8,319.5 C1276.5,319.5 1278.3,320.4 1280.0,320.8 C1281.7,321.2 1283.2,321.9 1284.8,321.9 C1286.4,321.9 1288.0,321.0 1289.5,320.7 C1291.0,320.4 1292.3,319.6 1293.5,319.9 C1294.7,320.2 1295.5,321.3 1296.5,322.3 C1297.5,323.3 1298.4,324.8 1299.5,325.9 C1300.6,327.0 1302.4,329.4 1303.3,329.2 C1304.2,329.0 1304.6,325.9 1305.0,324.5 C1305.4,323.1 1305.4,319.4 1305.8,320.5 C1306.2,321.6 1306.4,329.5 1307.3,331.3 C1308.2,333.1 1310.0,332.9 1311.1,331.3 C1312.3,329.7 1313.1,327.1 1314.0,321.7 C1314.9,316.3 1315.7,307.0 1316.5,298.6 C1317.3,290.3 1318.1,279.4 1318.8,271.7 C1319.6,264.1 1320.2,257.6 1321.1,252.5 C1322.0,247.4 1323.1,243.6 1324.2,241.0 C1325.3,238.4 1326.5,237.1 1327.5,237.1 C1328.4,237.1 1329.2,238.4 1330.0,241.0 C1330.8,243.6 1331.3,248.7 1332.3,252.5 C1333.3,256.4 1334.7,260.2 1336.1,264.1 C1337.6,267.9 1339.2,272.4 1340.9,275.6 C1342.7,278.8 1344.9,280.4 1346.7,283.3 C1348.4,286.1 1349.9,290.0 1351.5,292.9 C1353.1,295.8 1354.5,298.5 1356.3,300.6 C1358.1,302.6 1360.0,304.4 1362.1,305.4 C1364.1,306.3 1366.9,305.8 1368.8,306.3 C1370.7,306.8 1372.0,307.1 1373.6,308.2 C1375.2,309.4 1376.6,311.9 1378.4,313.1 C1380.2,314.2 1382.2,314.9 1384.2,315.0 C1386.1,315.1 1388.2,313.9 1389.9,313.6 C1391.7,313.3 1392.8,312.6 1394.7,313.1 C1396.6,313.5 1399.1,315.5 1401.5,316.3 C1403.9,317.2 1406.6,318.0 1409.1,318.2 C1411.7,318.4 1414.3,317.8 1416.8,317.5 C1419.4,317.2 1422.3,316.2 1424.5,316.3 C1426.8,316.4 1428.0,317.7 1430.3,318.2 C1432.5,318.8 1435.7,319.8 1438.0,319.8 C1440.2,319.7 1442.1,318.4 1443.7,317.9 C1445.4,317.3 1446.4,316.2 1448.0,316.3 C1449.6,316.5 1451.3,318.1 1453.3,318.8 C1455.4,319.6 1457.8,320.7 1460.1,320.7 C1462.3,320.7 1464.7,319.4 1466.8,318.8 C1468.9,318.3 1470.0,317.6 1472.6,317.5 C1475.1,317.4 1479.0,318.0 1482.2,318.2 C1485.4,318.5 1488.6,318.7 1491.8,318.8 C1495.0,318.9 1498.2,318.4 1501.4,318.8 C1504.6,319.2 1507.8,320.7 1511.0,321.3 C1514.2,322.0 1518.1,322.5 1520.6,322.7 C1523.1,322.8 1525.1,322.2 1526.0,322.1" fill="none" stroke="#2E3192" stroke-width="8" stroke-linejoin="round" stroke-linecap="round" />
<path d="M658.6,333.1 C659.0,332.0 660.4,330.2 661.4,326.4 C662.4,322.6 663.5,315.2 664.5,310.3 C665.5,305.4 666.8,301.4 667.4,296.9 C668.0,292.5 667.7,288.0 668.1,283.6 C668.4,279.1 668.9,273.8 669.4,270.2 C669.9,266.5 670.6,263.7 671.2,261.5 C671.8,259.2 672.5,257.2 673.0,256.8 C673.6,256.3 674.0,257.3 674.4,258.8 C674.8,260.2 675.0,262.7 675.4,265.5 C675.8,268.3 676.3,272.3 676.8,275.5 C677.3,278.8 677.8,281.8 678.4,284.9 C679.0,288.0 679.7,291.3 680.5,294.3 C681.4,297.3 682.4,300.4 683.5,303.0 C684.6,305.5 685.9,307.7 687.2,309.7 C688.6,311.7 689.7,313.2 691.5,315.0 C693.3,316.8 695.9,318.8 698.2,320.4 C700.5,321.9 703.3,323.4 705.6,324.4 C707.8,325.4 710.6,326.1 711.6,326.4" fill="none" stroke="#2E3192" stroke-width="8" stroke-linejoin="round" stroke-linecap="round" />
<path d="M876.8,331.6 C877.2,331.2 878.4,335.0 879.1,329.3 C879.8,323.7 880.5,311.6 881.1,297.6 C881.8,283.6 882.3,261.6 882.9,245.3 C883.5,229.1 884.2,210.9 884.7,199.9 C885.3,189.0 885.8,183.9 886.3,179.5 C886.8,175.1 887.2,173.4 887.7,173.4 C888.1,173.4 888.6,174.7 889.1,179.5 C889.5,184.3 889.9,192.0 890.4,202.2 C890.9,212.4 891.6,229.5 892.2,240.8 C892.9,252.2 893.7,262.0 894.5,270.3 C895.3,278.6 896.0,285.5 897.0,290.7 C898.0,296.0 899.2,299.3 900.4,302.1 C901.6,304.9 903.0,305.9 904.3,307.8 C905.6,309.7 906.6,311.4 908.1,313.5 C909.6,315.5 911.5,318.1 913.3,319.8 C915.2,321.5 918.1,323.0 919.0,323.7" fill="none" stroke="#2E3192" stroke-width="8" stroke-linejoin="round" stroke-linecap="round" />
<path d="M1091.9,331.7 C1092.3,331.7 1093.6,333.3 1094.4,331.7 C1095.2,330.1 1096.2,328.2 1096.9,322.1 C1097.6,316.1 1098.2,306.1 1098.8,295.3 C1099.5,284.4 1100.1,271.2 1100.7,256.8 C1101.4,242.4 1102.1,221.6 1102.7,208.8 C1103.2,196.0 1103.6,189.3 1104.0,180.0 C1104.4,170.7 1104.6,163.8 1104.9,153.3 C1105.2,142.8 1105.5,129.2 1105.8,117.2 C1106.1,105.2 1106.4,90.7 1106.7,81.1 C1107.0,71.5 1107.2,64.2 1107.4,59.4 C1107.6,54.7 1107.8,52.6 1108.0,52.6 C1108.2,52.6 1108.3,54.7 1108.5,59.4 C1108.8,64.2 1109.1,71.5 1109.4,81.1 C1109.8,90.7 1110.2,105.2 1110.7,117.2 C1111.1,129.2 1111.5,142.8 1112.1,153.3 C1112.7,163.8 1113.5,170.7 1114.2,180.0 C1114.9,189.3 1115.6,198.6 1116.5,208.8 C1117.4,219.1 1118.3,232.8 1119.4,241.5 C1120.5,250.1 1121.8,254.9 1123.2,260.7 C1124.7,266.4 1126.3,271.2 1128.0,276.0 C1129.8,280.8 1131.9,285.3 1133.8,289.5 C1135.7,293.7 1137.6,298.3 1139.5,301.0 C1141.5,303.7 1143.4,304.8 1145.3,305.8 C1147.2,306.8 1150.1,306.9 1151.1,307.2" fill="none" stroke="#2E3192" stroke-width="8" stroke-linejoin="round" stroke-linecap="round" />
<path d="M1307.7,331.8 C1308.1,331.5 1309.3,334.4 1310.2,329.9 C1311.0,325.4 1311.9,315.5 1312.7,304.9 C1313.4,294.3 1313.9,280.9 1314.6,266.5 C1315.3,252.1 1316.2,232.8 1316.9,218.4 C1317.6,204.0 1318.4,187.8 1318.8,180.0 C1319.2,172.2 1319.2,175.8 1319.4,171.4 C1319.6,166.9 1319.7,158.7 1320.0,153.3 C1320.2,147.9 1320.5,142.9 1320.9,138.9 C1321.3,134.8 1321.7,131.3 1322.3,128.9 C1322.9,126.5 1323.6,124.4 1324.3,124.4 C1325.0,124.4 1325.7,126.5 1326.3,128.9 C1326.9,131.3 1327.3,135.1 1327.7,138.9 C1328.2,142.6 1328.5,146.1 1329.0,151.5 C1329.5,156.9 1330.3,166.6 1330.8,171.4 C1331.3,176.1 1331.2,173.8 1331.9,180.0 C1332.6,186.2 1334.0,199.9 1335.2,208.8 C1336.3,217.8 1337.4,226.1 1339.0,233.8 C1340.6,241.5 1342.8,248.9 1344.8,254.9 C1346.7,261.0 1348.8,264.9 1350.5,270.3 C1352.3,275.8 1353.7,283.0 1355.3,287.6 C1356.9,292.3 1358.2,295.5 1360.1,298.2 C1362.1,300.9 1364.5,302.2 1366.9,303.9 C1369.3,305.7 1373.3,307.9 1374.6,308.7" fill="none" stroke="#2E3192" stroke-width="8" stroke-linejoin="round" stroke-linecap="round" />
<path d="M673,262 L673,292 M887.7,180 L887.7,252" fill="none" stroke="#2E3192" stroke-width="5"/>
<path d="M658.0,333.1 C658.7,332.4 660.8,331.1 662.0,329.1 C663.3,327.1 664.4,324.6 665.4,321.0 C666.4,317.5 667.3,312.1 668.1,307.7 C668.9,303.2 669.4,297.4 670.1,294.3 C670.8,291.1 671.5,290.0 672.1,288.9 C672.6,287.8 672.9,287.6 673.4,287.8 C674.0,288.1 674.8,288.7 675.4,290.2 C676.1,291.8 676.7,294.5 677.4,296.9 C678.2,299.4 679.1,302.6 680.1,305.0 C681.1,307.3 682.0,309.2 683.5,311.0 C684.9,312.8 687.0,314.2 688.8,315.7 C690.6,317.1 692.2,318.4 694.2,319.7 C696.2,321.0 698.6,322.6 700.9,323.7 C703.1,324.8 704.9,325.5 707.6,326.1 C710.2,326.8 713.1,327.1 716.9,327.5 C720.7,327.8 725.9,328.1 730.3,328.4 C734.8,328.7 739.3,329.1 743.7,329.3 C748.2,329.6 752.6,329.6 757.1,329.7 C761.6,329.9 766.0,330.0 770.5,330.1 C775.0,330.3 779.9,330.5 783.9,330.4 C787.9,330.3 790.2,329.7 794.6,329.7 C798.9,329.8 799.1,330.4 810.0,330.7 C820.9,330.9 849.8,331.2 860.0,331.2 C870.2,331.1 868.7,330.4 871.4,330.5 C874.0,330.6 874.4,332.2 875.9,331.6 C877.4,331.0 879.3,330.9 880.4,327.1 C881.6,323.3 882.0,316.5 882.7,308.9 C883.4,301.3 884.0,290.4 884.5,281.7 C885.1,273.0 885.6,262.8 886.1,256.7 C886.6,250.6 887.1,246.9 887.7,245.3 C888.3,243.8 888.9,244.6 889.5,247.6 C890.1,250.6 890.6,257.1 891.3,263.5 C892.0,269.9 892.8,280.2 893.6,286.2 C894.4,292.3 895.3,296.2 896.3,299.8 C897.3,303.4 898.4,305.7 899.7,307.8 C901.1,309.9 902.8,310.6 904.3,312.3 C905.8,314.0 907.1,316.3 908.8,318.0 C910.5,319.7 912.4,321.4 914.5,322.5 C916.6,323.7 919.0,324.3 921.3,324.8 C923.6,325.3 925.5,324.9 928.1,325.3 C930.8,325.6 933.4,326.6 937.2,327.1 C941.0,327.6 944.8,327.9 950.8,328.2 C956.9,328.5 965.9,328.7 973.5,328.9 C981.1,329.1 988.6,329.3 996.2,329.3 C1003.8,329.3 1011.6,328.8 1018.9,328.9 C1026.2,329.0 1029.8,329.8 1040.0,329.8 C1050.2,329.8 1072.1,329.0 1080.0,328.9 C1087.9,328.7 1085.8,328.4 1087.7,328.9 C1089.6,329.3 1090.1,331.9 1091.5,331.7 C1093.0,331.6 1095.0,330.8 1096.3,327.9 C1097.6,325.0 1098.4,321.2 1099.2,314.5 C1100.0,307.7 1100.6,297.8 1101.1,287.6 C1101.7,277.3 1102.2,264.5 1102.7,253.0 C1103.2,241.5 1103.7,226.7 1104.2,218.4 C1104.7,210.1 1105.3,206.4 1105.9,203.1 C1106.5,199.7 1107.2,197.9 1107.9,198.2 C1108.5,198.6 1109.1,200.0 1109.8,205.0 C1110.4,209.9 1111.0,219.4 1111.7,228.0 C1112.4,236.7 1113.2,249.2 1114.2,256.8 C1115.2,264.5 1116.3,269.6 1117.5,274.1 C1118.6,278.6 1119.9,280.5 1121.3,283.7 C1122.7,286.9 1124.3,290.3 1126.1,293.3 C1127.9,296.4 1129.9,299.6 1131.9,302.0 C1133.8,304.4 1135.7,306.5 1137.6,307.7 C1139.5,309.0 1141.5,309.4 1143.4,309.7 C1145.3,309.9 1147.4,309.4 1149.2,309.1 C1150.9,308.8 1152.4,307.3 1154.0,307.7 C1155.6,308.2 1157.0,310.1 1158.8,311.6 C1160.5,313.0 1162.8,315.5 1164.5,316.4 C1166.3,317.2 1167.6,317.1 1169.3,316.8 C1171.1,316.4 1173.5,314.7 1175.1,314.5 C1176.7,314.2 1177.3,314.5 1178.9,315.4 C1180.5,316.4 1182.8,319.2 1184.7,320.2 C1186.6,321.3 1188.7,321.9 1190.4,321.8 C1192.2,321.6 1193.5,320.1 1195.3,319.3 C1197.0,318.4 1199.1,317.0 1201.0,316.8 C1202.9,316.5 1204.5,317.6 1206.8,317.9 C1209.0,318.2 1211.6,318.8 1214.5,318.7 C1217.3,318.6 1220.9,317.3 1224.1,317.3 C1227.3,317.3 1230.5,318.3 1233.7,318.7 C1236.9,319.1 1240.2,319.8 1243.3,319.8 C1246.3,319.8 1249.1,318.3 1251.9,318.7 C1254.7,319.1 1258.0,321.4 1260.0,322.1 C1262.0,322.9 1262.5,323.4 1264.1,323.3 C1265.7,323.2 1267.7,322.1 1269.5,321.5 C1271.3,320.9 1273.0,320.0 1274.8,320.0 C1276.5,320.0 1278.3,320.9 1280.0,321.3 C1281.7,321.7 1283.2,322.4 1284.8,322.4 C1286.4,322.4 1288.0,321.5 1289.5,321.2 C1291.0,320.9 1292.3,320.1 1293.5,320.4 C1294.7,320.7 1295.5,321.8 1296.5,322.8 C1297.5,323.8 1298.4,325.2 1299.5,326.4 C1300.6,327.5 1302.4,329.9 1303.3,329.7 C1304.2,329.5 1304.6,326.4 1305.0,325.0 C1305.4,323.6 1305.4,319.9 1305.8,321.0 C1306.2,322.1 1306.4,330.0 1307.3,331.8 C1308.2,333.6 1310.0,333.4 1311.1,331.8 C1312.3,330.2 1313.1,327.6 1314.0,322.2 C1314.9,316.8 1315.7,307.5 1316.5,299.1 C1317.3,290.8 1318.1,279.9 1318.8,272.2 C1319.6,264.6 1320.2,258.1 1321.1,253.0 C1322.0,247.9 1323.1,244.1 1324.2,241.5 C1325.3,238.9 1326.5,237.6 1327.5,237.6 C1328.4,237.6 1329.2,238.9 1330.0,241.5 C1330.8,244.1 1331.3,249.2 1332.3,253.0 C1333.3,256.9 1334.7,260.7 1336.1,264.6 C1337.6,268.4 1339.2,272.9 1340.9,276.1 C1342.7,279.3 1344.9,280.9 1346.7,283.8 C1348.4,286.6 1349.9,290.5 1351.5,293.4 C1353.1,296.3 1354.5,299.0 1356.3,301.1 C1358.1,303.1 1360.0,304.9 1362.1,305.9 C1364.1,306.8 1366.9,306.3 1368.8,306.8 C1370.7,307.3 1372.0,307.6 1373.6,308.7 C1375.2,309.9 1376.6,312.4 1378.4,313.6 C1380.2,314.7 1382.2,315.4 1384.2,315.5 C1386.1,315.6 1388.2,314.4 1389.9,314.1 C1391.7,313.8 1392.8,313.1 1394.7,313.6 C1396.6,314.0 1399.1,316.0 1401.5,316.8 C1403.9,317.7 1406.6,318.5 1409.1,318.7 C1411.7,318.9 1414.3,318.3 1416.8,318.0 C1419.4,317.7 1422.3,316.7 1424.5,316.8 C1426.8,316.9 1428.0,318.2 1430.3,318.7 C1432.5,319.3 1435.7,320.3 1438.0,320.3 C1440.2,320.2 1442.1,318.9 1443.7,318.4 C1445.4,317.8 1446.4,316.7 1448.0,316.8 C1449.6,317.0 1451.3,318.6 1453.3,319.3 C1455.4,320.1 1457.8,321.2 1460.1,321.2 C1462.3,321.2 1464.7,319.9 1466.8,319.3 C1468.9,318.8 1470.0,318.1 1472.6,318.0 C1475.1,317.9 1479.0,318.5 1482.2,318.7 C1485.4,319.0 1488.6,319.2 1491.8,319.3 C1495.0,319.4 1498.2,318.9 1501.4,319.3 C1504.6,319.7 1507.8,321.2 1511.0,321.8 C1514.2,322.5 1518.1,323.0 1520.6,323.2 C1523.1,323.3 1525.1,322.7 1526.0,322.6" fill="none" stroke="#00A651" stroke-width="8.8" stroke-linejoin="round" stroke-linecap="round" />
</g>
<line x1="874.65" y1="50.0" x2="874.65" y2="335.8" stroke="#2E3192" stroke-width="2.2" />
<line x1="1090.9" y1="50.0" x2="1090.9" y2="335.8" stroke="#2E3192" stroke-width="2.2" />
<line x1="1307.15" y1="50.0" x2="1307.15" y2="335.8" stroke="#2E3192" stroke-width="2.2" />
<text x="658.4" y="361" font-size="25" text-anchor="middle" font-weight="normal" >0</text>
<text x="766.925" y="361" font-size="25" text-anchor="middle" font-weight="normal" >2</text>
<text x="875.4499999999999" y="361" font-size="25" text-anchor="middle" font-weight="normal" >4</text>
<text x="983.9750000000001" y="361" font-size="25" text-anchor="middle" font-weight="normal" >6</text>
<text x="1092.5" y="361" font-size="25" text-anchor="middle" font-weight="normal" >8</text>
<text x="1201.025" y="361" font-size="25" text-anchor="middle" font-weight="normal" >10</text>
<text x="1309.5500000000002" y="361" font-size="25" text-anchor="middle" font-weight="normal" >12</text>
<text x="1418.075" y="361" font-size="25" text-anchor="middle" font-weight="normal" >14</text>
<text x="1526.6000000000001" y="361" font-size="25" text-anchor="middle" font-weight="normal" >16</text>
<text x="1092.9" y="388" font-size="29" text-anchor="middle" font-weight="bold" >seconds</text>
<text x="1093.7" y="26.5" font-size="29" text-anchor="middle" font-weight="bold" >Z(s) for 20 Cat Area 18 Neurons</text>
<text x="848" y="92.7" font-size="30" text-anchor="end">0<tspan font-size="17.5" dy="-9.3">o</tspan></text>
<text x="1075" y="92.7" font-size="30" text-anchor="end">90<tspan font-size="17.5" dy="-9.3">o</tspan></text>
<text x="1289.5" y="92.7" font-size="30" text-anchor="end">180<tspan font-size="17.5" dy="-9.3">o</tspan></text>
<text x="1496.5" y="92.7" font-size="30" text-anchor="end">270<tspan font-size="17.5" dy="-9.3">o</tspan></text>
<text transform="translate(588,197.5) rotate(-90)" font-size="29" text-anchor="middle" font-weight="bold" >Z(s)</text>
<rect x="874.65" y="500.6" width="217.7500000000001" height="285.19999999999993" fill="#E6E7E8" />
<rect x="1307.15" y="500.6" width="216.25" height="285.19999999999993" fill="#E6E7E8" />
<rect x="1304.15" y="500.6" width="2.2" height="285.19999999999993" fill="#fff" />
<line x1="874.65" y1="501.6" x2="1092.4" y2="501.6" stroke="#231F20" stroke-width="1.6" />
<line x1="1304.15" y1="501.6" x2="1523.4" y2="501.6" stroke="#231F20" stroke-width="1.6" />
<line x1="874.65" y1="784.5999999999999" x2="1092.4" y2="784.5999999999999" stroke="#231F20" stroke-width="1.6" />
<line x1="1304.15" y1="784.5999999999999" x2="1523.4" y2="784.5999999999999" stroke="#231F20" stroke-width="1.6" />
<rect x="658.4" y="500.6" width="865.0000000000001" height="285.19999999999993" fill="none" stroke="#231F20" stroke-width="2"/>
<line x1="1522.8000000000002" y1="499.6" x2="1522.8000000000002" y2="786.8" stroke="#231F20" stroke-width="3.2" />
<line x1="1092.4" y1="500.6" x2="1092.4" y2="785.8" stroke="#231F20" stroke-width="1.4" />
<line x1="1303.95" y1="503.8" x2="1303.95" y2="785.8" stroke="#231F20" stroke-width="2.2" />
<line x1="766.525" y1="500.6" x2="766.525" y2="509.1" stroke="#231F20" stroke-width="1.6" />
<line x1="766.525" y1="785.8" x2="766.525" y2="777.8" stroke="#231F20" stroke-width="1.6" />
<line x1="982.7750000000001" y1="500.6" x2="982.7750000000001" y2="509.1" stroke="#231F20" stroke-width="1.6" />
<line x1="982.7750000000001" y1="785.8" x2="982.7750000000001" y2="777.8" stroke="#231F20" stroke-width="1.6" />
<line x1="1199.025" y1="500.6" x2="1199.025" y2="509.1" stroke="#231F20" stroke-width="1.6" />
<line x1="1199.025" y1="785.8" x2="1199.025" y2="777.8" stroke="#231F20" stroke-width="1.6" />
<line x1="1415.275" y1="500.6" x2="1415.275" y2="509.1" stroke="#231F20" stroke-width="1.6" />
<line x1="1415.275" y1="785.8" x2="1415.275" y2="777.8" stroke="#231F20" stroke-width="1.6" />
<line x1="658.4" y1="500.59999999999997" x2="665.9" y2="500.59999999999997" stroke="#231F20" stroke-width="1.6" />
<line x1="1523.4" y1="500.59999999999997" x2="1515.4" y2="500.59999999999997" stroke="#231F20" stroke-width="1.6" />
<text x="650" y="508.4" font-size="25" text-anchor="end" font-weight="normal" >1.1</text>
<line x1="658.4" y1="571.9" x2="665.9" y2="571.9" stroke="#231F20" stroke-width="1.6" />
<line x1="1523.4" y1="571.9" x2="1515.4" y2="571.9" stroke="#231F20" stroke-width="1.6" />
<text x="652" y="579.6999999999999" font-size="25" text-anchor="end" font-weight="normal" >1.05</text>
<line x1="658.4" y1="643.2" x2="665.9" y2="643.2" stroke="#231F20" stroke-width="1.6" />
<line x1="1523.4" y1="643.2" x2="1515.4" y2="643.2" stroke="#231F20" stroke-width="1.6" />
<text x="642.5" y="651.0" font-size="25" text-anchor="end" font-weight="normal" >1</text>
<line x1="658.4" y1="714.5000000000001" x2="665.9" y2="714.5000000000001" stroke="#231F20" stroke-width="1.6" />
<line x1="1523.4" y1="714.5000000000001" x2="1515.4" y2="714.5000000000001" stroke="#231F20" stroke-width="1.6" />
<text x="652" y="722.3000000000001" font-size="25" text-anchor="end" font-weight="normal" >0.95</text>
<line x1="658.4" y1="785.8" x2="665.9" y2="785.8" stroke="#231F20" stroke-width="1.6" />
<line x1="1523.4" y1="785.8" x2="1515.4" y2="785.8" stroke="#231F20" stroke-width="1.6" />
<text x="650" y="793.5999999999999" font-size="25" text-anchor="end" font-weight="normal" >0.9</text>
<clipPath id="cclip"><rect x="655.9" y="500.6" width="874.0" height="286.2"/></clipPath>
<g clip-path="url(#cclip)">
<path d="M658.6,640.2 L659.6,649.9 L660.6,635.5 L661.6,652.9 L662.6,630.2 L663.6,654.0 L663.5,593.3 L664.6,593.3 L665.6,656.7 L666.6,614.4 L667.5,685.1 L668.6,685.1 L668.0,467.9 L669.1,467.9 L669.6,681.7 L670.7,574.4 L671.8,574.4 L670.7,684.2 L671.8,684.2 L672.6,619.4 L673.6,662.9 L673.4,580.7 L674.5,580.7 L675.6,663.6 L676.6,604.7 L676.5,678.8 L677.6,678.8 L678.6,608.8 L679.6,670.3 L679.8,605.0 L680.9,605.0 L681.6,693.2 L682.7,693.2 L682.6,607.4 L683.6,664.7 L684.3,467.9 L685.4,467.9 L685.6,663.0 L686.6,604.2 L687.6,660.3 L687.3,592.4 L688.4,592.4 L689.1,673.4 L690.2,673.4 L690.6,605.7 L691.6,673.3 L691.8,595.1 L692.9,595.1 L693.6,666.2 L694.6,618.3 L695.5,672.5 L696.6,672.5 L696.4,602.3 L697.5,602.3 L697.6,660.9 L698.6,605.6 L699.6,662.6 L700.6,613.4 L701.6,656.5 L702.3,577.6 L703.4,577.6 L703.6,654.8 L704.6,618.4 L705.6,655.6 L706.3,615.9 L707.4,615.9 L707.2,658.0 L708.3,658.0 L708.6,627.7 L709.6,653.7 L710.6,630.9 L711.6,649.0 L712.6,631.9 L713.6,653.5 L714.8,617.7 L715.9,617.7 L715.6,649.7 L716.6,627.7 L718.0,659.8 L719.1,659.8 L718.6,631.4 L719.6,652.9 L719.4,627.6 L720.5,627.6 L721.6,649.4 L722.6,633.9 L723.6,653.8 L724.6,635.5 L725.6,648.1 L726.6,635.4 L727.6,650.2 L728.6,635.5 L729.6,648.8 L730.6,629.4 L731.7,629.4 L731.6,652.8 L732.6,633.5 L733.3,661.6 L734.4,661.6 L734.6,633.8 L735.6,651.9 L736.6,633.4 L737.6,650.8 L738.6,635.8 L739.6,646.8 L740.6,634.8 L741.6,646.7 L742.6,637.0 L743.6,647.6 L744.6,637.6 L745.6,646.8 L746.9,628.5 L748.0,628.5 L747.6,646.5 L748.6,634.1 L749.6,646.7 L749.6,619.8 L750.7,619.8 L751.6,647.5 L752.6,637.6 L753.6,651.5 L754.6,636.4 L755.6,646.5 L756.6,637.8 L757.6,647.0 L758.6,634.8 L759.6,646.3 L759.9,631.2 L761.0,631.2 L761.6,646.5 L762.6,636.3 L763.6,648.0 L764.6,634.2 L765.6,648.9 L766.6,637.6 L767.6,646.4 L768.6,635.4 L769.6,649.3 L770.6,637.5 L771.6,649.4 L773.0,612.3 L774.1,612.3 L773.6,649.3 L774.6,635.4 L775.6,646.4 L776.6,628.5 L777.7,628.5 L777.6,645.9 L778.6,638.5 L779.6,646.4 L780.6,636.2 L781.6,647.1 L782.6,635.0 L783.6,649.9 L783.9,596.9 L785.0,596.9 L785.6,646.3 L786.6,638.2 L787.6,647.9 L788.6,635.3 L789.6,647.2 L790.6,636.5 L791.6,645.9 L792.6,636.4 L792.9,656.2 L794.0,656.2 L793.8,633.9 L794.9,633.9 L795.6,646.1 L796.6,635.9 L797.6,648.8 L798.6,635.0 L799.6,646.8 L800.6,624.9 L801.7,624.9 L801.6,646.1 L802.6,638.4 L803.6,649.4 L804.6,635.8 L804.6,657.1 L805.7,657.1 L806.6,634.9 L807.6,646.6 L808.6,637.0 L810.0,655.3 L811.1,655.3 L810.6,635.0 L811.6,647.3 L812.6,635.2 L813.6,649.1 L814.6,635.8 L815.6,646.2 L816.6,638.0 L817.6,647.5 L818.1,633.0 L819.2,633.0 L819.6,645.9 L820.6,635.4 L821.6,646.9 L822.6,636.9 L822.6,654.4 L823.7,654.4 L823.5,633.0 L824.6,633.0 L825.6,647.2 L826.6,637.2 L827.6,646.8 L828.6,638.3 L829.6,648.5 L830.6,638.4 L831.6,648.1 L831.7,632.1 L832.8,632.1 L833.6,647.1 L834.6,637.1 L835.6,645.8 L836.6,637.1 L837.6,646.2 L838.6,636.1 L839.6,647.3 L840.6,636.2 L841.6,646.8 L841.6,627.6 L842.7,627.6 L843.6,647.0 L844.6,636.5 L844.3,653.5 L845.4,653.5 L846.6,637.4 L847.6,647.9 L847.9,635.7 L849.0,635.7 L849.6,646.1 L850.6,637.1 L851.6,648.5 L852.6,638.5 L853.6,646.7 L854.2,631.2 L855.3,631.2 L855.6,645.6 L856.6,636.7 L857.6,648.8 L858.6,638.5 L859.6,647.6 L860.6,638.5 L861.6,649.1 L862.6,638.3 L863.6,646.5 L864.6,637.5 L865.6,648.4 L866.6,638.5 L867.6,646.9 L868.6,630.7 L869.7,630.7 L869.6,646.2 L870.6,636.5 L871.6,647.0 L872.6,637.7 L873.6,646.6 L874.6,636.9 L875.6,646.2 L876.6,629.9 L877.6,655.3 L878.6,631.7 L879.6,650.1 L880.6,621.4 L881.6,652.8 L882.1,609.6 L883.2,609.6 L883.6,667.5 L884.6,627.2 L885.6,674.0 L885.1,467.9 L886.2,467.9 L886.6,695.0 L887.7,695.0 L888.6,628.3 L889.6,664.3 L890.6,628.0 L892.0,675.2 L893.1,675.2 L892.9,605.0 L894.0,605.0 L893.6,667.0 L894.6,627.6 L895.6,657.5 L896.6,624.8 L896.5,661.6 L897.6,661.6 L897.4,612.3 L898.5,612.3 L899.6,655.8 L900.6,625.4 L901.6,651.4 L901.4,584.3 L902.5,584.3 L903.6,652.5 L903.7,601.4 L904.8,601.4 L905.5,663.5 L906.6,663.5 L906.6,622.9 L907.6,652.3 L908.8,612.3 L909.9,612.3 L909.6,649.8 L910.6,623.3 L911.8,658.0 L912.9,658.0 L912.7,624.0 L913.8,624.0 L913.6,649.8 L914.6,627.5 L915.6,652.6 L916.6,630.3 L917.6,652.1 L918.6,633.5 L918.2,653.5 L919.3,653.5 L920.6,633.0 L921.6,652.0 L922.6,635.9 L923.6,647.7 L924.6,637.2 L925.6,651.6 L926.6,637.1 L927.2,654.4 L928.3,654.4 L928.6,634.8 L929.6,650.5 L930.6,637.6 L931.6,647.8 L932.6,637.0 L933.6,648.4 L934.6,637.8 L935.6,651.9 L936.6,636.7 L937.6,651.4 L938.6,637.7 L939.6,646.3 L940.6,637.5 L941.6,648.0 L942.6,630.1 L943.6,646.2 L944.6,629.6 L945.6,647.5 L946.6,631.0 L947.6,647.0 L948.6,629.8 L949.6,648.1 L949.7,586.6 L950.8,586.6 L951.6,649.1 L952.6,635.3 L953.6,647.1 L954.6,634.8 L955.6,649.1 L956.0,630.3 L957.1,630.3 L957.6,649.8 L958.6,635.3 L959.6,649.2 L960.6,635.7 L961.6,647.9 L962.6,637.1 L963.6,649.6 L964.6,635.6 L965.6,650.1 L966.6,636.3 L967.6,646.6 L968.6,638.5 L969.6,647.1 L970.6,638.4 L971.6,648.0 L972.6,636.5 L973.6,648.7 L973.2,632.1 L974.3,632.1 L975.6,649.4 L976.6,636.0 L977.6,647.9 L978.6,636.4 L979.6,649.0 L980.6,638.0 L981.6,646.7 L982.6,636.1 L983.6,648.9 L984.6,634.8 L985.6,647.1 L986.6,637.2 L987.6,649.1 L988.6,636.6 L989.6,646.1 L990.6,638.3 L991.6,648.9 L992.6,637.8 L993.6,646.0 L994.8,629.4 L995.9,629.4 L995.6,648.4 L996.6,636.2 L997.6,646.6 L998.6,637.0 L999.6,647.4 L1000.6,638.3 L1001.6,646.3 L1002.6,634.8 L1003.6,645.9 L1004.6,637.2 L1005.6,650.1 L1006.6,633.9 L1007.7,633.9 L1007.6,646.3 L1008.6,635.0 L1008.4,653.5 L1009.5,653.5 L1010.6,638.3 L1011.6,649.9 L1012.6,638.3 L1013.6,647.4 L1014.6,635.3 L1015.6,646.3 L1016.6,635.2 L1017.6,645.9 L1018.6,638.5 L1019.6,647.1 L1020.1,630.3 L1021.2,630.3 L1021.6,646.7 L1022.6,637.8 L1023.6,645.8 L1023.3,588.8 L1024.4,588.8 L1025.6,646.0 L1026.6,635.1 L1027.6,649.4 L1028.6,637.8 L1029.6,646.8 L1030.6,634.7 L1031.6,646.7 L1032.6,637.4 L1033.6,645.8 L1034.6,638.4 L1035.6,646.4 L1036.6,635.0 L1037.6,646.3 L1037.2,633.0 L1038.3,633.0 L1039.6,646.7 L1040.6,634.9 L1041.6,648.7 L1042.6,636.5 L1043.6,649.5 L1044.6,636.9 L1045.6,645.7 L1046.6,636.1 L1047.6,648.3 L1047.2,629.4 L1048.3,629.4 L1049.6,645.7 L1050.6,635.1 L1051.6,647.0 L1051.3,622.7 L1052.4,622.7 L1053.6,648.2 L1054.6,634.8 L1055.6,647.8 L1056.6,637.8 L1057.6,646.6 L1058.6,638.2 L1059.6,646.0 L1060.6,635.2 L1061.6,646.0 L1062.6,635.2 L1063.6,646.8 L1064.6,638.3 L1065.6,645.7 L1065.7,629.4 L1066.8,629.4 L1067.6,646.0 L1068.6,637.9 L1069.6,648.8 L1070.6,636.0 L1071.6,646.6 L1072.6,637.0 L1073.6,646.3 L1074.6,638.4 L1075.6,649.2 L1076.0,632.1 L1077.1,632.1 L1077.6,647.4 L1078.6,635.4 L1079.6,646.1 L1080.6,638.0 L1081.6,646.6 L1082.6,634.9 L1083.6,648.6 L1084.6,638.5 L1085.6,647.7 L1085.4,611.9 L1086.5,611.9 L1087.6,647.2 L1088.6,638.5 L1089.6,649.5 L1090.6,634.9 L1091.6,652.4 L1092.6,634.9 L1093.6,652.4 L1094.6,624.8 L1095.6,678.2 L1096.6,612.4 L1097.6,684.5 L1098.6,611.7 L1099.6,664.6 L1100.6,604.1 L1101.6,711.3 L1102.7,711.3 L1102.6,607.5 L1103.6,666.4 L1103.9,467.9 L1105.0,467.9 L1105.6,685.8 L1106.6,617.5 L1106.1,672.5 L1107.2,672.5 L1108.8,558.1 L1109.9,558.1 L1109.6,669.3 L1110.6,608.5 L1110.6,704.0 L1111.7,704.0 L1111.5,467.9 L1112.6,467.9 L1113.6,685.2 L1114.6,601.4 L1114.2,695.9 L1115.3,695.9 L1116.6,615.6 L1117.8,721.2 L1118.9,721.2 L1118.6,614.6 L1119.6,680.2 L1120.6,606.8 L1121.6,671.3 L1122.6,607.0 L1122.3,712.2 L1123.4,712.2 L1124.5,556.3 L1125.6,556.3 L1125.6,675.1 L1126.6,606.6 L1127.7,702.2 L1128.8,702.2 L1128.6,590.6 L1129.7,590.6 L1129.6,667.4 L1130.6,599.0 L1131.6,687.2 L1132.8,542.3 L1133.9,542.3 L1133.6,682.1 L1134.6,614.8 L1135.9,683.3 L1137.0,683.3 L1136.6,617.1 L1137.6,666.5 L1138.6,608.9 L1139.6,660.6 L1140.6,615.5 L1141.6,683.9 L1141.3,577.1 L1142.4,577.1 L1144.0,677.9 L1145.1,677.9 L1144.6,617.3 L1145.6,680.2 L1146.7,619.5 L1147.8,619.5 L1147.6,681.8 L1148.6,620.0 L1149.6,681.7 L1150.6,613.6 L1151.6,672.4 L1152.1,695.0 L1153.2,695.0 L1153.0,595.1 L1154.1,595.1 L1154.6,623.3 L1155.6,662.3 L1156.6,621.3 L1156.6,692.3 L1157.7,692.3 L1157.9,577.1 L1159.0,577.1 L1159.6,663.7 L1160.6,614.2 L1161.1,684.2 L1162.2,684.2 L1162.6,552.4 L1163.7,552.4 L1163.6,661.4 L1164.6,613.2 L1165.6,659.8 L1166.6,614.1 L1167.6,659.1 L1167.4,583.4 L1168.5,583.4 L1168.3,678.8 L1169.4,678.8 L1170.6,626.5 L1171.6,667.4 L1172.6,624.9 L1173.6,667.0 L1173.8,593.9 L1174.9,593.9 L1174.7,663.5 L1175.8,663.5 L1176.6,620.8 L1177.6,663.2 L1178.3,619.5 L1179.4,619.5 L1179.6,653.3 L1180.6,619.3 L1180.1,668.9 L1181.2,668.9 L1182.6,616.4 L1183.6,655.3 L1183.7,611.4 L1184.8,611.4 L1185.6,669.1 L1186.6,624.9 L1187.3,671.6 L1188.4,671.6 L1188.6,623.7 L1189.6,654.9 L1190.0,607.8 L1191.1,607.8 L1191.6,666.3 L1192.6,620.1 L1193.6,656.9 L1194.0,547.7 L1195.1,547.7 L1195.6,665.6 L1196.6,628.4 L1197.6,665.1 L1198.6,627.2 L1199.6,653.9 L1200.5,578.9 L1201.6,578.9 L1201.6,670.6 L1202.6,619.3 L1202.6,674.3 L1203.7,674.3 L1204.6,628.8 L1205.6,659.8 L1205.3,590.1 L1206.4,590.1 L1207.6,655.7 L1208.6,626.0 L1208.9,675.2 L1210.0,675.2 L1210.6,622.0 L1211.6,662.9 L1212.5,594.6 L1213.6,594.6 L1213.6,656.3 L1214.6,624.7 L1215.6,664.4 L1217.0,611.4 L1218.1,611.4 L1217.6,655.6 L1218.6,629.1 L1219.8,684.2 L1220.9,684.2 L1220.6,627.8 L1221.6,670.1 L1222.6,626.0 L1223.6,665.7 L1224.6,624.4 L1225.6,654.0 L1226.1,608.3 L1227.2,608.3 L1227.0,669.8 L1228.1,669.8 L1228.6,621.3 L1229.6,656.0 L1230.6,630.1 L1231.6,669.3 L1231.5,606.0 L1232.6,606.0 L1233.6,657.1 L1234.6,622.5 L1235.6,655.5 L1236.0,615.9 L1237.1,615.9 L1237.8,679.7 L1238.9,679.7 L1238.6,626.2 L1239.6,654.9 L1240.6,628.7 L1241.6,654.7 L1242.8,579.4 L1243.9,579.4 L1243.6,661.7 L1244.6,630.3 L1245.0,672.5 L1246.1,672.5 L1246.6,625.9 L1247.6,655.9 L1248.6,630.5 L1249.6,659.6 L1249.5,623.1 L1250.6,623.1 L1250.4,675.2 L1251.5,675.2 L1252.6,627.8 L1253.6,653.4 L1254.0,619.5 L1255.1,619.5 L1255.6,657.0 L1256.6,630.4 L1257.6,667.4 L1258.6,630.3 L1259.6,656.0 L1260.6,629.6 L1261.6,668.0 L1262.6,630.1 L1263.6,662.1 L1264.3,607.2 L1265.4,607.2 L1264.9,668.0 L1266.0,668.0 L1266.6,629.7 L1267.6,656.3 L1268.6,625.0 L1269.6,653.3 L1269.4,614.1 L1270.5,614.1 L1270.3,669.8 L1271.4,669.8 L1273.0,612.6 L1274.1,612.6 L1273.6,659.4 L1274.6,630.4 L1275.6,652.9 L1276.6,631.1 L1277.6,664.9 L1277.8,613.7 L1278.9,613.7 L1279.6,662.3 L1280.6,624.6 L1280.2,673.4 L1281.3,673.4 L1282.9,623.1 L1284.0,623.1 L1283.6,656.5 L1284.6,632.7 L1285.6,655.1 L1286.6,625.5 L1287.6,662.0 L1287.9,595.5 L1289.0,595.5 L1288.3,667.1 L1289.4,667.1 L1290.6,630.6 L1291.6,661.0 L1292.6,632.3 L1293.6,653.8 L1293.2,606.3 L1294.3,606.3 L1295.6,650.7 L1296.6,632.0 L1297.6,658.9 L1298.6,633.1 L1299.6,655.9 L1300.6,633.2 L1301.6,649.2 L1302.7,617.7 L1303.8,617.7 L1303.6,652.3 L1304.0,467.9 L1305.1,467.9 L1305.6,650.1 L1306.6,635.3 L1307.6,652.4 L1308.6,631.8 L1309.6,659.6 L1310.6,627.8 L1311.6,668.4 L1312.6,620.2 L1313.6,660.1 L1314.6,620.9 L1315.6,661.7 L1316.6,617.4 L1317.5,692.3 L1318.6,692.3 L1318.6,610.0 L1319.6,676.3 L1320.2,592.4 L1321.3,592.4 L1321.6,682.6 L1322.0,546.4 L1323.1,546.4 L1322.9,692.3 L1324.0,692.3 L1324.7,467.9 L1325.8,467.9 L1325.6,664.3 L1326.6,590.5 L1326.2,717.6 L1327.3,717.6 L1328.0,536.1 L1329.1,536.1 L1329.6,695.9 L1330.6,603.3 L1331.6,693.8 L1332.6,611.7 L1333.6,691.9 L1334.6,615.5 L1334.6,709.5 L1335.7,709.5 L1336.4,603.2 L1337.5,603.2 L1337.6,664.1 L1338.6,606.8 L1339.6,667.7 L1340.6,578.9 L1341.7,578.9 L1341.6,661.0 L1342.6,616.1 L1343.6,685.1 L1344.7,685.1 L1344.6,621.3 L1345.6,675.6 L1346.6,613.6 L1347.6,656.9 L1347.8,608.7 L1348.9,608.7 L1349.6,662.0 L1350.6,615.1 L1351.6,668.0 L1351.8,586.1 L1352.9,586.1 L1353.6,676.1 L1354.7,676.1 L1354.6,623.5 L1355.6,659.1 L1355.4,577.1 L1356.5,577.1 L1357.6,652.7 L1358.6,609.7 L1359.6,653.5 L1360.4,606.0 L1361.5,606.0 L1361.6,651.7 L1362.6,615.4 L1363.6,659.9 L1364.0,618.6 L1365.1,618.6 L1365.6,662.7 L1366.6,618.8 L1367.6,652.9 L1368.6,625.9 L1369.6,651.4 L1370.6,619.1 L1371.6,655.2 L1372.5,588.5 L1373.6,588.5 L1373.6,652.0 L1374.6,619.2 L1375.6,650.6 L1376.6,624.2 L1377.6,653.2 L1378.6,626.3 L1379.6,656.1 L1380.6,627.3 L1381.6,654.5 L1382.6,628.5 L1383.6,652.0 L1383.3,619.5 L1384.4,619.5 L1385.6,656.7 L1386.6,621.3 L1387.6,653.6 L1388.6,628.6 L1389.6,656.7 L1390.6,625.7 L1391.6,656.7 L1391.8,613.2 L1392.9,613.2 L1393.6,657.9 L1394.6,629.1 L1395.6,650.6 L1396.0,617.7 L1397.1,617.7 L1397.8,663.5 L1398.9,663.5 L1398.6,630.7 L1399.6,650.4 L1400.6,626.6 L1401.6,651.0 L1402.6,630.1 L1403.6,654.6 L1403.2,620.4 L1404.3,620.4 L1405.0,662.6 L1406.1,662.6 L1406.6,629.5 L1407.6,650.5 L1408.6,618.6 L1409.7,618.6 L1409.6,657.4 L1410.6,631.6 L1411.6,657.8 L1412.6,628.5 L1413.6,653.8 L1414.4,613.2 L1415.5,613.2 L1415.6,651.6 L1416.6,631.9 L1417.6,657.7 L1418.6,626.7 L1419.6,657.1 L1420.6,631.1 L1421.6,653.5 L1423.0,624.9 L1424.1,624.9 L1423.9,662.6 L1425.0,662.6 L1424.6,629.9 L1425.6,651.3 L1426.6,629.0 L1427.6,651.7 L1428.6,634.7 L1429.6,660.5 L1430.6,632.2 L1431.6,659.4 L1432.6,634.9 L1433.9,661.6 L1435.0,661.6 L1434.6,633.1 L1435.6,656.2 L1436.6,630.6 L1437.6,658.7 L1438.4,627.6 L1439.5,627.6 L1439.6,653.3 L1440.6,632.6 L1441.6,651.9 L1442.6,635.6 L1443.6,650.2 L1444.7,626.7 L1445.8,626.7 L1445.6,650.0 L1446.6,636.1 L1447.6,652.2 L1448.6,636.0 L1449.6,650.0 L1449.5,622.2 L1450.6,622.2 L1451.6,656.3 L1452.6,632.9 L1453.6,654.9 L1454.6,635.2 L1454.6,659.8 L1455.7,659.8 L1456.6,631.9 L1457.6,658.7 L1458.2,629.4 L1459.3,629.4 L1459.6,650.2 L1460.6,636.0 L1461.6,649.9 L1462.6,632.4 L1462.7,664.4 L1463.8,664.4 L1464.0,619.5 L1465.1,619.5 L1465.6,651.5 L1466.6,636.5 L1467.6,656.9 L1468.1,622.2 L1469.2,622.2 L1469.6,652.7 L1470.6,636.7 L1471.6,651.3 L1472.6,633.5 L1473.6,651.7 L1474.6,631.9 L1474.4,663.5 L1475.5,663.5 L1476.6,634.2 L1477.6,652.5 L1477.2,628.1 L1478.3,628.1 L1479.6,651.8 L1480.6,633.8 L1481.6,650.7 L1482.6,632.8 L1483.6,657.2 L1484.6,636.6 L1485.6,650.4 L1486.6,633.6 L1487.6,649.4 L1488.6,635.2 L1489.8,662.6 L1490.9,662.6 L1490.6,636.7 L1491.6,651.3 L1492.6,633.3 L1493.6,658.1 L1494.6,636.4 L1495.6,654.7 L1495.2,627.1 L1496.3,627.1 L1497.9,654.4 L1499.0,654.4 L1498.6,637.1 L1499.6,654.4 L1500.6,633.9 L1501.6,650.9 L1502.6,636.0 L1503.6,656.5 L1503.3,628.5 L1504.4,628.5 L1505.6,648.8 L1506.6,636.9 L1507.6,656.3 L1507.8,628.9 L1508.9,628.9 L1508.7,658.9 L1509.8,658.9 L1510.6,636.9 L1511.6,651.9 L1512.6,634.4 L1513.6,652.9 L1514.1,628.9 L1515.2,628.9 L1515.6,648.9 L1516.6,634.0 L1517.7,657.1 L1518.8,657.1 L1518.6,637.2 L1519.6,653.9 L1520.6,635.5 L1521.6,650.7 L1522.8,625.8 L1523.9,625.8" fill="none" stroke="#ED1C24" stroke-width="3.3" stroke-linejoin="round" stroke-linecap="round"/>
<path d="M658.3,644.5 C658.6,642.9 659.2,638.4 659.9,634.6 C660.6,630.9 661.6,625.1 662.6,622.0 C663.6,618.9 664.8,616.8 665.9,616.2 C666.9,615.6 668.0,617.1 668.9,618.4 C669.9,619.6 670.6,621.2 671.6,623.8 C672.7,626.3 673.9,630.7 675.3,633.7 C676.6,636.7 678.4,640.8 679.8,641.8 C681.1,642.9 682.2,640.5 683.4,640.0 C684.6,639.6 685.3,639.0 687.0,639.1 C688.6,639.3 690.4,640.3 693.3,640.9 C696.2,641.5 699.3,642.3 704.1,642.7 C708.9,643.2 713.1,643.5 722.2,643.6 C731.2,643.7 746.2,643.3 758.2,643.3 C770.3,643.2 782.3,643.4 794.3,643.3 C806.4,643.2 818.4,642.9 830.4,642.7 C842.4,642.6 859.4,642.2 866.5,642.2 C873.5,642.2 871.4,643.1 872.7,642.7 C874.0,642.4 873.6,641.7 874.5,640.0 C875.4,638.4 876.8,634.8 878.1,632.8 C879.5,630.9 881.3,626.8 882.6,628.3 C883.9,629.8 885.0,636.0 885.9,641.8 C886.7,647.7 887.0,663.3 887.7,663.3 C888.4,663.3 889.4,646.0 890.2,641.8 C891.0,637.7 891.6,639.1 892.6,638.2 C893.5,637.4 894.8,636.5 896.2,636.8 C897.5,637.1 899.2,638.6 900.7,640.0 C902.2,641.5 903.8,645.1 905.2,645.4 C906.5,645.7 907.6,642.6 908.8,641.8 C910.0,641.1 909.8,640.8 912.4,640.9 C915.0,641.1 916.2,642.3 924.1,642.7 C932.1,643.2 948.2,643.6 960.2,643.6 C972.2,643.6 987.3,643.0 996.3,642.7 C1005.3,642.5 1008.3,642.1 1014.3,642.2 C1020.3,642.3 1026.4,643.2 1032.4,643.3 C1038.4,643.4 1044.4,642.8 1050.4,642.7 C1056.4,642.6 1063.0,642.9 1068.4,642.7 C1073.9,642.5 1079.9,641.5 1082.9,641.5 C1085.9,641.5 1085.4,642.3 1086.5,642.7 C1087.6,643.2 1088.8,644.1 1089.5,644.0 C1090.3,643.8 1090.2,645.5 1091.0,641.8 C1091.7,638.2 1093.1,629.5 1094.0,622.0 C1095.0,614.5 1095.8,603.3 1096.7,596.7 C1097.6,590.1 1098.6,585.2 1099.4,582.3 C1100.3,579.3 1101.0,578.7 1101.8,579.0 C1102.5,579.3 1103.3,581.2 1103.9,584.1 C1104.6,587.0 1105.1,592.8 1105.7,596.7 C1106.3,600.6 1106.8,605.1 1107.6,607.6 C1108.3,610.0 1109.2,610.8 1110.3,611.2 C1111.3,611.5 1112.8,609.7 1113.9,609.7 C1114.9,609.7 1115.7,609.1 1116.6,611.2 C1117.5,613.2 1118.4,617.5 1119.3,622.0 C1120.2,626.5 1121.2,633.2 1122.0,638.2 C1122.8,643.2 1123.3,650.6 1124.1,651.9 C1125.0,653.3 1125.9,647.7 1126.9,646.3 C1127.8,645.0 1128.5,644.7 1130.1,643.6 C1131.7,642.6 1134.6,640.3 1136.4,640.0 C1138.2,639.8 1139.3,642.0 1140.9,642.2 C1142.6,642.3 1144.5,641.6 1146.3,640.9 C1148.1,640.3 1150.1,638.8 1151.8,638.2 C1153.4,637.6 1154.8,637.0 1156.3,637.3 C1157.8,637.6 1159.1,639.1 1160.8,640.0 C1162.4,640.9 1164.1,642.1 1166.2,642.7 C1168.3,643.4 1170.7,644.1 1173.4,644.0 C1176.1,643.9 1179.1,642.3 1182.4,642.2 C1185.7,642.1 1189.6,643.3 1193.2,643.6 C1196.9,643.9 1200.5,644.1 1204.1,644.0 C1207.7,643.8 1211.3,642.9 1214.9,642.7 C1218.5,642.6 1222.4,643.6 1225.7,643.3 C1229.0,643.0 1232.0,641.5 1234.7,640.9 C1237.4,640.4 1239.5,639.8 1242.0,640.0 C1244.4,640.2 1246.8,642.0 1249.2,642.2 C1251.6,642.3 1254.1,641.4 1256.4,640.9 C1258.6,640.4 1260.9,639.0 1262.7,639.1 C1264.5,639.2 1265.3,640.9 1267.2,641.5 C1269.2,642.1 1271.7,643.0 1274.4,642.7 C1277.1,642.5 1280.7,640.1 1283.4,640.0 C1286.2,639.9 1288.3,642.0 1290.7,642.2 C1293.1,642.3 1295.8,640.8 1297.9,640.9 C1300.0,641.0 1302.0,642.2 1303.3,642.7 C1304.5,643.2 1304.7,644.0 1305.4,644.0 C1306.1,644.0 1306.9,644.6 1307.6,642.6 C1308.3,640.6 1309.1,635.7 1309.7,632.1 C1310.4,628.6 1311.0,623.9 1311.5,621.3 C1312.1,618.6 1312.5,617.3 1313.0,616.2 C1313.5,615.2 1314.0,614.6 1314.4,614.8 C1314.9,615.0 1315.4,615.8 1315.9,617.3 C1316.3,618.8 1316.7,621.5 1317.1,624.0 C1317.5,626.5 1317.8,629.4 1318.2,632.1 C1318.6,634.8 1319.0,634.2 1319.5,640.0 C1319.9,645.9 1320.3,659.0 1320.9,667.1 C1321.6,675.2 1322.5,683.7 1323.5,688.8 C1324.4,693.8 1325.8,697.1 1326.7,697.4 C1327.6,697.7 1328.1,694.4 1328.9,690.6 C1329.6,686.7 1330.3,678.5 1331.0,674.3 C1331.8,670.1 1332.5,667.1 1333.4,665.3 C1334.2,663.5 1335.0,663.2 1336.1,663.5 C1337.1,663.8 1338.3,666.3 1339.7,667.1 C1341.0,668.0 1342.8,668.7 1344.2,668.6 C1345.6,668.4 1346.8,668.0 1347.8,666.2 C1348.9,664.5 1349.6,661.1 1350.5,658.1 C1351.4,655.1 1352.3,650.4 1353.2,648.2 C1354.1,645.9 1354.6,644.9 1355.9,644.6 C1357.3,644.3 1359.5,646.4 1361.3,646.4 C1363.1,646.4 1364.3,645.0 1366.8,644.6 C1369.2,644.1 1368.9,643.7 1375.8,643.7 C1382.7,643.6 1393.8,644.0 1408.2,644.0 C1422.7,644.1 1443.7,644.0 1462.4,644.0 C1481.1,644.0 1510.8,644.0 1520.5,644.0" fill="none" stroke="#2E3192" stroke-width="8.3" stroke-linejoin="round" stroke-linecap="round" />
<path d="M658.1,646.3 C658.4,646.5 660.2,645.2 660.6,647.6 C661.1,650.0 661.8,659.5 662.1,667.1 C662.4,674.6 662.8,697.9 663.0,712.2 C663.2,726.5 660.7,780.7 663.9,789.7 C667.0,798.8 686.9,790.3 690.1,789.7 C693.2,789.2 690.3,788.0 690.6,785.2 C690.9,782.5 692.0,770.6 692.4,766.3 C692.8,762.0 693.7,752.9 694.2,748.2 C694.7,743.6 695.9,731.2 696.5,726.6 C697.2,722.0 698.8,712.8 699.6,708.6 C700.4,704.3 702.4,694.0 703.2,690.5 C704.1,687.0 705.9,680.9 706.8,678.8 C707.8,676.7 710.1,673.7 711.3,672.5 C712.6,671.2 716.4,669.1 717.7,668.0 C718.9,666.8 721.1,664.0 722.2,662.6 C723.2,661.1 725.6,656.6 726.7,655.3 C727.7,654.1 729.8,652.3 731.2,651.7 C732.6,651.2 736.5,650.9 738.4,650.8 C740.3,650.7 745.5,651.0 747.4,650.8 C749.3,650.6 753.0,649.5 754.6,649.0 C756.3,648.6 760.2,646.9 761.9,646.9 C763.5,646.8 767.4,648.0 769.1,648.7 C770.8,649.3 774.6,652.6 776.3,652.6 C778.0,652.7 782.0,649.7 783.5,649.0 C785.0,648.4 787.7,647.2 788.9,647.2 C790.2,647.2 793.1,648.7 794.3,649.0 C795.6,649.3 798.5,650.2 799.7,649.9 C801.0,649.7 803.7,647.5 805.2,646.9 C806.6,646.2 810.5,644.7 812.4,644.5 C814.3,644.3 819.5,644.6 821.4,645.1 C823.3,645.5 827.1,647.7 828.6,648.1 C830.1,648.6 832.8,649.2 834.0,649.0 C835.3,648.9 838.2,647.1 839.4,646.9 C840.7,646.6 843.6,647.0 844.8,647.2 C846.1,647.4 848.8,648.8 850.3,648.7 C851.7,648.6 855.9,646.7 857.5,646.3 C859.0,645.9 862.5,645.1 863.8,645.4 C865.0,645.7 867.3,647.5 868.3,649.0 C869.2,650.5 871.4,656.5 871.9,658.0 C872.4,659.6 872.4,662.8 872.7,662.6 C873.0,662.3 874.0,658.2 874.3,656.2 C874.7,654.2 875.4,646.7 875.8,645.4 C876.2,644.1 877.2,642.9 877.6,645.4 C878.0,647.9 878.7,659.3 879.0,667.1 C879.3,674.8 879.7,697.9 879.9,712.2 C880.1,726.5 877.5,780.7 880.8,789.7 C884.1,798.8 905.0,790.3 908.2,789.7 C911.5,789.2 908.6,789.0 908.8,785.2 C909.0,781.4 909.7,764.1 910.1,757.3 C910.4,750.4 911.4,733.3 911.9,726.6 C912.3,719.9 913.6,704.4 914.2,699.5 C914.8,694.7 916.4,687.4 917.3,685.1 C918.1,682.8 920.4,680.7 921.4,680.1 C922.4,679.4 925.0,680.6 925.9,679.7 C926.9,678.8 928.7,674.8 929.5,672.5 C930.4,670.2 932.2,661.9 933.1,659.8 C934.1,657.7 936.4,655.3 937.7,654.4 C938.9,653.6 942.4,652.7 944.0,652.6 C945.5,652.5 949.3,653.3 951.2,653.5 C953.1,653.8 958.3,654.3 960.2,654.8 C962.1,655.3 966.2,657.5 967.4,658.0 C968.7,658.6 970.1,659.7 971.0,659.5 C972.0,659.3 974.3,656.8 975.5,656.2 C976.8,655.7 980.5,654.8 981.9,654.8 C983.2,654.8 986.0,655.5 987.3,656.2 C988.5,656.9 991.4,660.2 992.7,660.7 C993.9,661.3 996.8,661.1 998.1,661.3 C999.4,661.5 1002.2,661.9 1003.5,662.6 C1004.8,663.2 1007.8,666.2 1008.9,667.1 C1010.1,668.0 1012.5,670.3 1013.4,670.3 C1014.4,670.3 1016.2,668.5 1017.0,667.1 C1017.9,665.6 1019.7,659.8 1020.6,658.0 C1021.6,656.3 1024.0,653.1 1025.2,652.3 C1026.3,651.4 1028.9,651.0 1030.6,650.8 C1032.2,650.7 1037.6,650.8 1039.6,651.2 C1041.6,651.6 1046.2,654.2 1047.7,654.4 C1049.2,654.6 1051.1,653.0 1052.2,653.0 C1053.4,652.9 1056.4,653.8 1057.6,654.1 C1058.9,654.3 1061.8,655.1 1063.0,655.3 C1064.3,655.5 1067.2,656.1 1068.4,655.9 C1069.7,655.7 1072.4,654.1 1073.9,653.5 C1075.3,653.0 1079.6,651.6 1081.1,651.2 C1082.6,650.8 1085.9,650.3 1086.5,649.9 C1087.1,649.6 1086.1,648.7 1086.4,648.1 C1086.8,647.6 1088.7,645.6 1089.5,645.1 C1090.3,644.5 1092.4,642.1 1093.1,643.6 C1093.9,645.1 1095.3,650.0 1095.8,658.0 C1096.3,666.0 1097.0,696.8 1097.3,712.2 C1097.6,727.5 1093.6,780.7 1098.5,789.7 C1103.5,798.8 1134.6,790.3 1139.5,789.7 C1144.3,789.2 1139.8,788.0 1140.0,785.2 C1140.3,782.5 1141.3,770.2 1141.8,766.3 C1142.3,762.4 1143.5,754.1 1144.2,751.9 C1144.8,749.6 1146.6,747.6 1147.2,747.3 C1147.9,747.1 1149.3,748.3 1149.9,750.0 C1150.6,751.8 1152.0,760.3 1152.7,762.7 C1153.3,765.1 1154.8,770.4 1155.4,770.8 C1155.9,771.2 1157.1,768.9 1157.5,766.3 C1158.0,763.7 1158.8,752.9 1159.3,748.2 C1159.8,743.6 1161.1,730.8 1161.7,726.6 C1162.3,722.4 1163.6,714.3 1164.4,712.2 C1165.1,710.1 1167.1,708.9 1168.0,708.6 C1168.8,708.2 1170.8,709.2 1171.6,709.5 C1172.4,709.7 1174.5,710.9 1175.2,710.4 C1175.9,709.8 1177.3,706.8 1177.9,704.9 C1178.5,703.1 1179.9,696.6 1180.6,694.1 C1181.4,691.6 1183.4,685.4 1184.2,683.3 C1185.1,681.2 1186.9,677.2 1187.8,676.1 C1188.8,674.9 1191.3,673.3 1192.3,673.4 C1193.4,673.5 1195.7,676.1 1196.9,677.0 C1198.0,677.8 1201.0,679.5 1202.3,680.6 C1203.5,681.6 1206.4,684.4 1207.7,686.0 C1208.9,687.6 1211.9,692.3 1213.1,694.1 C1214.2,695.9 1216.7,700.4 1217.6,701.3 C1218.5,702.3 1220.3,702.7 1221.2,702.2 C1222.2,701.8 1224.7,698.5 1225.7,697.7 C1226.8,697.0 1229.1,695.9 1230.2,695.9 C1231.4,696.0 1234.5,697.7 1235.6,698.1 C1236.8,698.5 1239.1,699.8 1240.2,699.5 C1241.2,699.3 1243.7,697.2 1244.7,695.9 C1245.6,694.7 1247.4,690.3 1248.3,688.7 C1249.1,687.1 1251.0,683.4 1251.9,682.4 C1252.7,681.3 1254.6,679.8 1255.5,679.7 C1256.3,679.6 1258.3,681.4 1259.1,681.9 C1259.9,682.3 1261.9,683.4 1262.7,683.3 C1263.5,683.2 1265.4,681.2 1266.3,680.6 C1267.3,680.0 1269.8,677.9 1270.8,677.9 C1271.9,677.9 1274.3,679.6 1275.3,680.6 C1276.4,681.5 1278.8,685.0 1279.8,686.0 C1280.9,687.1 1283.4,689.7 1284.4,689.6 C1285.3,689.5 1287.1,686.7 1288.0,685.1 C1288.8,683.5 1290.7,678.2 1291.6,676.1 C1292.4,674.0 1294.2,669.0 1295.2,667.1 C1296.1,665.2 1298.8,660.9 1299.7,659.8 C1300.5,658.8 1301.9,657.2 1302.4,658.0 C1302.9,658.9 1303.8,665.0 1304.2,667.1 C1304.6,669.2 1305.3,676.7 1305.5,676.1 C1305.6,675.5 1305.6,665.0 1305.8,661.6 C1306.0,658.3 1306.8,649.3 1307.2,647.2 C1307.6,645.1 1308.6,642.3 1309.0,643.6 C1309.5,644.9 1310.8,650.0 1311.2,658.0 C1311.6,666.0 1312.4,696.8 1312.6,712.2 C1312.9,727.5 1308.0,780.7 1313.5,789.7 C1319.0,798.8 1354.4,790.3 1359.9,789.7 C1365.4,789.2 1360.2,787.5 1360.4,785.2 C1360.7,782.9 1361.7,773.8 1362.2,769.9 C1362.8,766.0 1364.2,755.9 1364.9,751.9 C1365.7,747.9 1367.7,738.8 1368.6,735.6 C1369.4,732.5 1371.2,727.1 1372.2,724.8 C1373.1,722.5 1375.5,717.5 1376.7,715.8 C1377.8,714.1 1380.7,711.3 1382.1,710.4 C1383.5,709.4 1387.0,708.3 1388.4,707.7 C1389.8,707.0 1392.5,705.9 1393.8,704.9 C1395.1,704.0 1398.0,701.1 1399.2,699.5 C1400.5,698.0 1403.5,693.0 1404.6,691.4 C1405.8,689.8 1408.1,686.8 1409.1,686.0 C1410.2,685.2 1412.6,684.1 1413.7,684.2 C1414.7,684.3 1417.1,685.8 1418.2,686.5 C1419.2,687.3 1421.7,689.9 1422.7,690.5 C1423.6,691.1 1425.4,691.7 1426.3,691.4 C1427.1,691.1 1428.9,689.0 1429.9,687.8 C1430.8,686.7 1433.4,682.5 1434.4,681.5 C1435.5,680.4 1437.9,679.0 1438.9,678.8 C1440.0,678.6 1442.5,679.6 1443.4,680.1 C1444.4,680.5 1446.1,682.4 1447.0,682.4 C1448.0,682.4 1450.6,680.3 1451.5,679.7 C1452.5,679.1 1454.3,677.5 1455.2,677.5 C1456.0,677.5 1457.9,678.6 1458.8,679.7 C1459.6,680.8 1461.5,685.0 1462.4,686.9 C1463.2,688.8 1465.1,694.1 1466.0,695.9 C1466.8,697.7 1468.8,701.8 1469.6,702.2 C1470.3,702.7 1471.6,700.7 1472.3,699.5 C1473.0,698.4 1475.0,694.0 1475.9,692.3 C1476.8,690.6 1479.4,686.6 1480.4,685.1 C1481.5,683.6 1483.9,680.6 1484.9,679.7 C1486.0,678.7 1488.3,677.2 1489.4,677.0 C1490.6,676.8 1493.6,677.7 1494.8,677.9 C1496.1,678.0 1499.0,678.5 1500.3,678.2 C1501.5,678.0 1504.4,676.8 1505.7,676.1 C1506.9,675.4 1509.9,673.5 1511.1,672.5 C1512.2,671.4 1514.6,668.0 1515.6,667.1 C1516.5,666.1 1518.5,664.1 1519.2,664.4 C1519.9,664.6 1521.1,666.4 1521.5,668.9 C1522.0,671.3 1522.6,679.6 1522.8,685.1 C1523.1,690.6 1523.6,712.2 1523.7,715.8" fill="none" stroke="#00A651" stroke-width="8.1" stroke-linejoin="round" stroke-linecap="round" />
</g>
<line x1="874.65" y1="500.6" x2="874.65" y2="785.8" stroke="#2E3192" stroke-width="1.7" />
<line x1="1090.9" y1="500.6" x2="1090.9" y2="785.8" stroke="#2E3192" stroke-width="1.7" />
<line x1="1307.15" y1="500.6" x2="1307.15" y2="785.8" stroke="#2E3192" stroke-width="1.7" />
<text x="658.4" y="811" font-size="25" text-anchor="middle" font-weight="normal" >0</text>
<text x="766.925" y="811" font-size="25" text-anchor="middle" font-weight="normal" >2</text>
<text x="875.4499999999999" y="811" font-size="25" text-anchor="middle" font-weight="normal" >4</text>
<text x="983.9750000000001" y="811" font-size="25" text-anchor="middle" font-weight="normal" >6</text>
<text x="1092.5" y="811" font-size="25" text-anchor="middle" font-weight="normal" >8</text>
<text x="1201.025" y="811" font-size="25" text-anchor="middle" font-weight="normal" >10</text>
<text x="1309.5500000000002" y="811" font-size="25" text-anchor="middle" font-weight="normal" >12</text>
<text x="1418.075" y="811" font-size="25" text-anchor="middle" font-weight="normal" >14</text>
<text x="1526.6000000000001" y="811" font-size="25" text-anchor="middle" font-weight="normal" >16</text>
<text x="1092.9" y="849" font-size="29" text-anchor="middle" font-weight="bold" >seconds</text>
<text x="1096.4" y="485.8" font-size="29" text-anchor="middle" font-weight="bold" >Z(s) Ratios for 20 Cat Area 18 Neurons</text>
<text x="848" y="536.8" font-size="30" text-anchor="end">0<tspan font-size="17.5" dy="-9.3">o</tspan></text>
<text x="1075" y="536.8" font-size="30" text-anchor="end">90<tspan font-size="17.5" dy="-9.3">o</tspan></text>
<text x="1289.5" y="536.8" font-size="30" text-anchor="end">180<tspan font-size="17.5" dy="-9.3">o</tspan></text>
<text x="1496.5" y="536.8" font-size="30" text-anchor="end">270<tspan font-size="17.5" dy="-9.3">o</tspan></text>
<text transform="translate(578.4,632.4) rotate(-90)" font-size="27.5" text-anchor="middle" font-weight="bold">Z(s)/Z(s)<tspan font-size="20" dy="12.5">exact</tspan></text>
<rect x="1761.5" y="40.6" width="239.5" height="180.1" fill="none" stroke="#231F20" stroke-width="2"/>
<line x1="1760.5" y1="220.7" x2="2009" y2="220.7" stroke="#231F20" stroke-width="2.2" />
<line x1="1856.0" y1="40.6" x2="1856.0" y2="43.6" stroke="#231F20" stroke-width="1.6" />
<line x1="1856.0" y1="220.7" x2="1856.0" y2="217.7" stroke="#231F20" stroke-width="1.6" />
<line x1="1950.5" y1="40.6" x2="1950.5" y2="43.6" stroke="#231F20" stroke-width="1.6" />
<line x1="1950.5" y1="220.7" x2="1950.5" y2="217.7" stroke="#231F20" stroke-width="1.6" />
<line x1="1761.5" y1="100.63333333333331" x2="1764.5" y2="100.63333333333331" stroke="#231F20" stroke-width="1.6" />
<line x1="2001.0" y1="100.63333333333331" x2="1998.0" y2="100.63333333333331" stroke="#231F20" stroke-width="1.6" />
<text x="1753.6" y="108.93333333333331" font-size="25" text-anchor="end" font-weight="normal" >0.2</text>
<line x1="1761.5" y1="160.66666666666666" x2="1764.5" y2="160.66666666666666" stroke="#231F20" stroke-width="1.6" />
<line x1="2001.0" y1="160.66666666666666" x2="1998.0" y2="160.66666666666666" stroke="#231F20" stroke-width="1.6" />
<text x="1753.6" y="168.96666666666667" font-size="25" text-anchor="end" font-weight="normal" >0.1</text>
<text x="1751.6" y="229.0" font-size="25" text-anchor="end" font-weight="normal" >0</text>
<text x="1765.5" y="245.29999999999998" font-size="25" text-anchor="middle" font-weight="normal" >0.8</text>
<text x="1858.0" y="245.29999999999998" font-size="25" text-anchor="middle" font-weight="normal" >0.9</text>
<text x="1951.0" y="245.29999999999998" font-size="25" text-anchor="middle" font-weight="normal" >1</text>
<polygon points="1762.0,221.0 1762.0,218.3 1763.8,218.3 1763.8,218.6 1768.6,218.6 1768.6,218.9 1773.3,218.9 1773.3,218.9 1778.0,218.9 1778.0,218.6 1782.7,218.6 1782.7,218.9 1787.5,218.9 1787.5,218.9 1792.2,218.9 1792.2,218.3 1796.9,218.3 1796.9,218.6 1801.6,218.6 1801.6,218.9 1806.3,218.9 1806.3,218.9 1811.1,218.9 1811.1,218.6 1815.8,218.6 1815.8,218.9 1820.5,218.9 1820.5,218.9 1825.2,218.9 1825.2,218.9 1830.0,218.9 1830.0,218.9 1834.7,218.9 1834.7,218.6 1839.4,218.6 1839.4,218.3 1844.1,218.3 1844.1,218.3 1848.9,218.3 1848.9,217.4 1853.6,217.4 1853.6,217.7 1858.3,217.7 1858.3,217.1 1863.0,217.1 1863.0,215.9 1867.8,215.9 1867.8,214.9 1872.5,214.9 1872.5,213.9 1877.2,213.9 1877.2,212.4 1881.9,212.4 1881.9,216.5 1886.7,216.5 1886.7,215.9 1891.4,215.9 1891.4,215.3 1896.1,215.3 1896.1,214.1 1900.8,214.1 1900.8,209.9 1905.6,209.9 1905.6,200.3 1910.3,200.3 1910.3,189.5 1915.0,189.5 1915.0,190.7 1919.7,190.7 1919.7,173.3 1924.5,173.3 1924.5,136.7 1929.2,136.7 1929.2,194.9 1933.9,194.9 1933.9,188.3 1938.6,188.3 1938.6,162.5 1943.4,162.5 1943.4,72.5 1948.1,72.5 1948.1,188.9 1952.8,188.9 1952.8,221.0" fill="#00A651"/><line x1="1760.5" y1="220.9" x2="2009" y2="220.9" stroke="#231F20" stroke-width="2.2"/>
<text transform="translate(1650.5,119.5) rotate(-90)" font-size="29" text-anchor="middle" font-weight="bold" >No Correction</text>
<text transform="translate(1697.2,112) rotate(-90)" font-size="29" text-anchor="middle" font-weight="bold" >distribution</text>
<text x="1899.5" y="272.6" font-size="29" text-anchor="middle" font-weight="bold">X / Z<tspan font-size="21.5" dy="11">exact</tspan></text>
<rect x="1761.5" y="320.4" width="239.5" height="180.0" fill="none" stroke="#231F20" stroke-width="2"/>
<line x1="1760.5" y1="500.4" x2="2009" y2="500.4" stroke="#231F20" stroke-width="2.2" />
<line x1="1856.0" y1="320.4" x2="1856.0" y2="323.4" stroke="#231F20" stroke-width="1.6" />
<line x1="1856.0" y1="500.4" x2="1856.0" y2="497.4" stroke="#231F20" stroke-width="1.6" />
<line x1="1950.5" y1="320.4" x2="1950.5" y2="323.4" stroke="#231F20" stroke-width="1.6" />
<line x1="1950.5" y1="500.4" x2="1950.5" y2="497.4" stroke="#231F20" stroke-width="1.6" />
<text x="1753.6" y="328.7" font-size="25" text-anchor="end" font-weight="normal" >0.4</text>
<line x1="1761.5" y1="365.4" x2="1764.5" y2="365.4" stroke="#231F20" stroke-width="1.6" />
<line x1="2001.0" y1="365.4" x2="1998.0" y2="365.4" stroke="#231F20" stroke-width="1.6" />
<text x="1753.6" y="373.7" font-size="25" text-anchor="end" font-weight="normal" >0.3</text>
<line x1="1761.5" y1="410.4" x2="1764.5" y2="410.4" stroke="#231F20" stroke-width="1.6" />
<line x1="2001.0" y1="410.4" x2="1998.0" y2="410.4" stroke="#231F20" stroke-width="1.6" />
<text x="1753.6" y="418.7" font-size="25" text-anchor="end" font-weight="normal" >0.2</text>
<line x1="1761.5" y1="455.4" x2="1764.5" y2="455.4" stroke="#231F20" stroke-width="1.6" />
<line x1="2001.0" y1="455.4" x2="1998.0" y2="455.4" stroke="#231F20" stroke-width="1.6" />
<text x="1753.6" y="463.7" font-size="25" text-anchor="end" font-weight="normal" >0.1</text>
<text x="1751.6" y="508.7" font-size="25" text-anchor="end" font-weight="normal" >0</text>
<text x="1765.5" y="525.0" font-size="25" text-anchor="middle" font-weight="normal" >0.8</text>
<text x="1858.0" y="525.0" font-size="25" text-anchor="middle" font-weight="normal" >0.9</text>
<text x="1951.0" y="525.0" font-size="25" text-anchor="middle" font-weight="normal" >1</text>
<polygon points="1893.6,502.2 1893.6,498.8 1903.4,498.8 1903.4,498.1 1913.1,498.1 1913.1,496.8 1921.7,496.8 1921.7,495.9 1926.6,495.9 1926.6,490.2 1931.0,490.2 1931.0,484.1 1935.6,484.1 1935.6,470.9 1940.5,470.9 1940.5,402.4 1945.2,402.4 1945.2,334.0 1954.2,334.0 1954.2,421.3 1958.9,421.3 1958.9,473.9 1963.3,473.9 1963.3,489.8 1968.2,489.8 1968.2,492.2 1972.3,492.2 1972.3,496.4 1976.7,496.4 1976.7,497.1 1989.0,497.1 1989.0,498.3 2004.1,498.3 2004.1,502.2" fill="#ED1C24"/>
<text transform="translate(1654,414) rotate(-90)" font-size="29" text-anchor="middle" font-weight="bold" >Impt. Samp.</text>
<text transform="translate(1681.8,412) rotate(-90)" font-size="29" text-anchor="middle" font-weight="bold" >distribution</text>
<text x="1903" y="560.7" font-size="29" text-anchor="middle" font-weight="bold">Z<tspan font-size="21.5" dy="11">IS</tspan><tspan dy="-11"> / Z</tspan><tspan font-size="21.5" dy="11">exact</tspan></text>
<rect x="1761.5" y="600.3" width="239.5" height="180.0" fill="none" stroke="#231F20" stroke-width="2"/>
<line x1="1760.5" y1="780.3" x2="2009" y2="780.3" stroke="#231F20" stroke-width="2.2" />
<line x1="1856.0" y1="600.3" x2="1856.0" y2="603.3" stroke="#231F20" stroke-width="1.6" />
<line x1="1856.0" y1="780.3" x2="1856.0" y2="777.3" stroke="#231F20" stroke-width="1.6" />
<line x1="1950.5" y1="600.3" x2="1950.5" y2="603.3" stroke="#231F20" stroke-width="1.6" />
<line x1="1950.5" y1="780.3" x2="1950.5" y2="777.3" stroke="#231F20" stroke-width="1.6" />
<text x="1751.6" y="608.5999999999999" font-size="25" text-anchor="end" font-weight="normal" >1</text>
<line x1="1761.5" y1="690.3" x2="1764.5" y2="690.3" stroke="#231F20" stroke-width="1.6" />
<line x1="2001.0" y1="690.3" x2="1998.0" y2="690.3" stroke="#231F20" stroke-width="1.6" />
<text x="1753.6" y="698.5999999999999" font-size="25" text-anchor="end" font-weight="normal" >0.5</text>
<text x="1751.6" y="788.5999999999999" font-size="25" text-anchor="end" font-weight="normal" >0</text>
<text x="1773.9" y="804.9" font-size="25" text-anchor="middle" font-weight="normal" >0.8</text>
<text x="1858.0" y="804.9" font-size="25" text-anchor="middle" font-weight="normal" >0.9</text>
<text x="1951.0" y="804.9" font-size="25" text-anchor="middle" font-weight="normal" >1</text>
<polygon points="1911.9,782.5 1911.9,778.3 1921.0,778.3 1921.0,782.5" fill="#2E3192"/>
<polygon points="1931.0,782.5 1931.0,775.1 1940.1,775.1 1940.1,776.4 1945.2,776.4 1945.2,625.5 1954.2,625.5 1954.2,772.2 1958.9,772.2 1958.9,776.6 1968.2,776.6 1968.2,777.8 1976.7,777.8 1976.7,782.5" fill="#2E3192"/>
<text transform="translate(1654,727) rotate(-90)" font-size="29" text-anchor="middle" font-weight="bold" >Cond. Logistic</text>
<text transform="translate(1697.6,721) rotate(-90)" font-size="29" text-anchor="middle" font-weight="bold" >distribution</text>
<text x="1907" y="841" font-size="29" text-anchor="middle" font-weight="bold">Z<tspan font-size="21.5" dy="11">CL</tspan><tspan dy="-11"> / Z</tspan><tspan font-size="21.5" dy="11">exact</tspan></text>
</svg>
</body></html>
